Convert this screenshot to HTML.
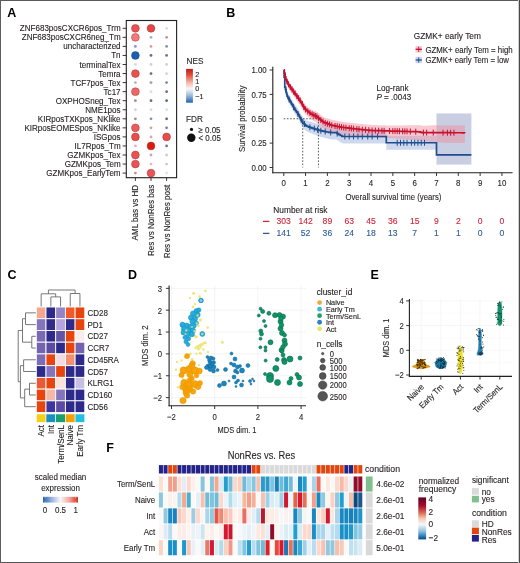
<!DOCTYPE html>
<html><head><meta charset="utf-8"><title>Figure</title>
<style>
html,body{margin:0;padding:0;background:#fff;}
body{width:520px;height:563px;overflow:hidden;font-family:"Liberation Sans", sans-serif;}
svg{display:block;will-change:transform;}
</style></head><body>
<svg width="520" height="563" viewBox="0 0 520 563" font-family='"Liberation Sans", sans-serif'><defs><linearGradient id="gNES" x1="0" y1="0" x2="0" y2="1"><stop offset="0" stop-color="#c41a10"/><stop offset="0.18" stop-color="#e0503c"/><stop offset="0.40" stop-color="#f4b4a4"/><stop offset="0.59" stop-color="#f8f8f8"/><stop offset="0.78" stop-color="#9cbcdc"/><stop offset="1" stop-color="#2262ae"/></linearGradient><linearGradient id="gC" x1="0" y1="0" x2="1" y2="0"><stop offset="0" stop-color="#2a5fb0"/><stop offset="0.25" stop-color="#9ab4e0"/><stop offset="0.5" stop-color="#f8f6f6"/><stop offset="0.75" stop-color="#f0a8a0"/><stop offset="1" stop-color="#d83020"/></linearGradient><linearGradient id="gF" x1="0" y1="0" x2="0" y2="1"><stop offset="0" stop-color="#67001f"/><stop offset="0.2" stop-color="#a01030"/><stop offset="0.35" stop-color="#d6604d"/><stop offset="0.5" stop-color="#f6c8b0"/><stop offset="0.64" stop-color="#f7f7f7"/><stop offset="0.8" stop-color="#92c5de"/><stop offset="0.92" stop-color="#2f7fbc"/><stop offset="1" stop-color="#0c3f80"/></linearGradient></defs><rect x="0.00" y="0.00" width="520.00" height="1.00" fill="#5a5a5a"/>
<rect x="0.00" y="562.00" width="520.00" height="1.00" fill="#555555"/>
<rect x="0.00" y="0.00" width="1.00" height="563.00" fill="#5e5e5e"/>
<rect x="518.00" y="0.00" width="1.00" height="563.00" fill="#d0d0d0"/>
<rect x="519.00" y="0.00" width="1.00" height="563.00" fill="#484848"/>
<text x="7.30" y="16.80" font-size="12.5" fill="#000" text-anchor="start" font-weight="bold">A</text>
<text x="120.60" y="28.30" font-size="8.86" fill="#231f20" text-anchor="end" dominant-baseline="central" textLength="100.81" lengthAdjust="spacingAndGlyphs" stroke="#231f20" stroke-width="0.12">ZNF683posCXCR6pos_Trm</text>
<line x1="122.60" y1="28.30" x2="126.30" y2="28.30" stroke="#231f20" stroke-width="0.9"/>
<circle cx="135.40" cy="28.30" r="3.90" fill="#e65454" stroke="#b03030" stroke-width="0.5" fill-opacity="1"/>
<circle cx="151.00" cy="28.30" r="3.90" fill="#e24646" stroke="#b03030" stroke-width="0.5" fill-opacity="1"/>
<circle cx="166.60" cy="28.30" r="1.40" fill="#e6dcdc"/>
<text x="120.60" y="37.35" font-size="8.86" fill="#231f20" text-anchor="end" dominant-baseline="central" textLength="98.88" lengthAdjust="spacingAndGlyphs" stroke="#231f20" stroke-width="0.12">ZNF683posCXCR6neg_Tm</text>
<line x1="122.60" y1="37.35" x2="126.30" y2="37.35" stroke="#231f20" stroke-width="0.9"/>
<circle cx="135.40" cy="37.35" r="3.90" fill="#ef7b7b" stroke="#b03030" stroke-width="0.5" fill-opacity="1"/>
<circle cx="151.00" cy="37.35" r="1.40" fill="#a9adc2"/>
<circle cx="166.60" cy="37.35" r="1.40" fill="#d48e8e"/>
<text x="120.60" y="46.40" font-size="8.86" fill="#231f20" text-anchor="end" dominant-baseline="central" textLength="57.28" lengthAdjust="spacingAndGlyphs" stroke="#231f20" stroke-width="0.12">uncharacterized</text>
<line x1="122.60" y1="46.40" x2="126.30" y2="46.40" stroke="#231f20" stroke-width="0.9"/>
<circle cx="135.40" cy="46.40" r="1.40" fill="#8c8ec8"/>
<circle cx="151.00" cy="46.40" r="1.40" fill="#d89e9e"/>
<circle cx="166.60" cy="46.40" r="1.40" fill="#8890b2"/>
<text x="120.60" y="55.45" font-size="8.86" fill="#231f20" text-anchor="end" dominant-baseline="central" textLength="9.39" lengthAdjust="spacingAndGlyphs" stroke="#231f20" stroke-width="0.12">Tn</text>
<line x1="122.60" y1="55.45" x2="126.30" y2="55.45" stroke="#231f20" stroke-width="0.9"/>
<circle cx="135.40" cy="55.45" r="3.90" fill="#1c5fae" stroke="#124a8a" stroke-width="0.5" fill-opacity="1"/>
<circle cx="151.00" cy="55.45" r="1.40" fill="#666a8c"/>
<circle cx="166.60" cy="55.45" r="1.40" fill="#6c72a0"/>
<text x="120.60" y="64.50" font-size="8.86" fill="#231f20" text-anchor="end" dominant-baseline="central" textLength="41.16" lengthAdjust="spacingAndGlyphs" stroke="#231f20" stroke-width="0.12">terminalTex</text>
<line x1="122.60" y1="64.50" x2="126.30" y2="64.50" stroke="#231f20" stroke-width="0.9"/>
<circle cx="135.40" cy="64.50" r="1.40" fill="#d8d8e8"/>
<circle cx="151.00" cy="64.50" r="1.40" fill="#d8d0d0"/>
<circle cx="166.60" cy="64.50" r="1.40" fill="#d4d2d2"/>
<text x="120.60" y="73.55" font-size="8.86" fill="#231f20" text-anchor="end" dominant-baseline="central" textLength="22.37" lengthAdjust="spacingAndGlyphs" stroke="#231f20" stroke-width="0.12">Temra</text>
<line x1="122.60" y1="73.55" x2="126.30" y2="73.55" stroke="#231f20" stroke-width="0.9"/>
<circle cx="135.40" cy="73.55" r="3.90" fill="#e65252" stroke="#b03030" stroke-width="0.5" fill-opacity="1"/>
<circle cx="151.00" cy="73.55" r="1.40" fill="#686c88"/>
<circle cx="166.60" cy="73.55" r="1.40" fill="#e6cece"/>
<text x="120.60" y="82.60" font-size="8.86" fill="#231f20" text-anchor="end" dominant-baseline="central" textLength="50.11" lengthAdjust="spacingAndGlyphs" stroke="#231f20" stroke-width="0.12">TCF7pos_Tex</text>
<line x1="122.60" y1="82.60" x2="126.30" y2="82.60" stroke="#231f20" stroke-width="0.9"/>
<circle cx="135.40" cy="82.60" r="1.40" fill="#c0aeae"/>
<circle cx="151.00" cy="82.60" r="1.40" fill="#989ab8"/>
<circle cx="166.60" cy="82.60" r="1.40" fill="#7e86b0"/>
<text x="120.60" y="91.65" font-size="8.86" fill="#231f20" text-anchor="end" dominant-baseline="central" textLength="17.00" lengthAdjust="spacingAndGlyphs" stroke="#231f20" stroke-width="0.12">Tc17</text>
<line x1="122.60" y1="91.65" x2="126.30" y2="91.65" stroke="#231f20" stroke-width="0.9"/>
<circle cx="135.40" cy="91.65" r="3.90" fill="#ec6868" stroke="#b03030" stroke-width="0.5" fill-opacity="1"/>
<circle cx="151.00" cy="91.65" r="1.40" fill="#ecd6d6"/>
<circle cx="166.60" cy="91.65" r="1.40" fill="#686e90"/>
<text x="120.60" y="100.70" font-size="8.86" fill="#231f20" text-anchor="end" dominant-baseline="central" textLength="64.88" lengthAdjust="spacingAndGlyphs" stroke="#231f20" stroke-width="0.12">OXPHOSneg_Tex</text>
<line x1="122.60" y1="100.70" x2="126.30" y2="100.70" stroke="#231f20" stroke-width="0.9"/>
<circle cx="135.40" cy="100.70" r="1.40" fill="#b08686"/>
<circle cx="151.00" cy="100.70" r="1.40" fill="#686c80"/>
<circle cx="166.60" cy="100.70" r="1.40" fill="#5e6690"/>
<text x="120.60" y="109.75" font-size="8.86" fill="#231f20" text-anchor="end" dominant-baseline="central" textLength="35.35" lengthAdjust="spacingAndGlyphs" stroke="#231f20" stroke-width="0.12">NME1pos</text>
<line x1="122.60" y1="109.75" x2="126.30" y2="109.75" stroke="#231f20" stroke-width="0.9"/>
<circle cx="135.40" cy="109.75" r="1.40" fill="#d6d2e8"/>
<circle cx="151.00" cy="109.75" r="1.40" fill="#dcdce8"/>
<circle cx="166.60" cy="109.75" r="1.40" fill="#e0e0e8"/>
<text x="120.60" y="118.80" font-size="8.86" fill="#231f20" text-anchor="end" dominant-baseline="central" textLength="82.77" lengthAdjust="spacingAndGlyphs" stroke="#231f20" stroke-width="0.12">KIRposTXKpos_NKlike</text>
<line x1="122.60" y1="118.80" x2="126.30" y2="118.80" stroke="#231f20" stroke-width="0.9"/>
<circle cx="135.40" cy="118.80" r="1.40" fill="#b08686"/>
<circle cx="151.00" cy="118.80" r="1.40" fill="#868eb8"/>
<circle cx="166.60" cy="118.80" r="1.40" fill="#5e6688"/>
<text x="120.60" y="127.85" font-size="8.86" fill="#231f20" text-anchor="end" dominant-baseline="central" textLength="96.19" lengthAdjust="spacingAndGlyphs" stroke="#231f20" stroke-width="0.12">KIRposEOMESpos_NKlike</text>
<line x1="122.60" y1="127.85" x2="126.30" y2="127.85" stroke="#231f20" stroke-width="0.9"/>
<circle cx="135.40" cy="127.85" r="3.90" fill="#ea5c5c" stroke="#b03030" stroke-width="0.5" fill-opacity="1"/>
<circle cx="151.00" cy="127.85" r="1.40" fill="#c8a696"/>
<circle cx="166.60" cy="127.85" r="1.40" fill="#7882a8"/>
<text x="120.60" y="136.90" font-size="8.86" fill="#231f20" text-anchor="end" dominant-baseline="central" textLength="26.85" lengthAdjust="spacingAndGlyphs" stroke="#231f20" stroke-width="0.12">ISGpos</text>
<line x1="122.60" y1="136.90" x2="126.30" y2="136.90" stroke="#231f20" stroke-width="0.9"/>
<circle cx="135.40" cy="136.90" r="3.90" fill="#e64e4e" stroke="#b03030" stroke-width="0.5" fill-opacity="1"/>
<circle cx="151.00" cy="136.90" r="1.40" fill="#e8a0b0"/>
<circle cx="166.60" cy="136.90" r="3.90" fill="#e64e4e" stroke="#b03030" stroke-width="0.5" fill-opacity="1"/>
<text x="120.60" y="145.95" font-size="8.86" fill="#231f20" text-anchor="end" dominant-baseline="central" textLength="46.08" lengthAdjust="spacingAndGlyphs" stroke="#231f20" stroke-width="0.12">IL7Rpos_Tm</text>
<line x1="122.60" y1="145.95" x2="126.30" y2="145.95" stroke="#231f20" stroke-width="0.9"/>
<circle cx="135.40" cy="145.95" r="1.40" fill="#e8aec0"/>
<circle cx="151.00" cy="145.95" r="3.90" fill="#dc1a08" stroke="#b03030" stroke-width="0.5" fill-opacity="1"/>
<circle cx="166.60" cy="145.95" r="1.40" fill="#6e76a0"/>
<text x="120.60" y="155.00" font-size="8.86" fill="#231f20" text-anchor="end" dominant-baseline="central" textLength="53.24" lengthAdjust="spacingAndGlyphs" stroke="#231f20" stroke-width="0.12">GZMKpos_Tex</text>
<line x1="122.60" y1="155.00" x2="126.30" y2="155.00" stroke="#231f20" stroke-width="0.9"/>
<circle cx="135.40" cy="155.00" r="3.90" fill="#e65454" stroke="#b03030" stroke-width="0.5" fill-opacity="1"/>
<circle cx="151.00" cy="155.00" r="1.40" fill="#d89ea8"/>
<circle cx="166.60" cy="155.00" r="1.40" fill="#d8c8c8"/>
<text x="120.60" y="164.05" font-size="8.86" fill="#231f20" text-anchor="end" dominant-baseline="central" textLength="55.92" lengthAdjust="spacingAndGlyphs" stroke="#231f20" stroke-width="0.12">GZMKpos_Tem</text>
<line x1="122.60" y1="164.05" x2="126.30" y2="164.05" stroke="#231f20" stroke-width="0.9"/>
<circle cx="135.40" cy="164.05" r="3.90" fill="#e65454" stroke="#b03030" stroke-width="0.5" fill-opacity="1"/>
<circle cx="151.00" cy="164.05" r="1.40" fill="#e8b6c6"/>
<circle cx="166.60" cy="164.05" r="1.40" fill="#d0c8c0"/>
<text x="120.60" y="173.10" font-size="8.86" fill="#231f20" text-anchor="end" dominant-baseline="central" textLength="74.26" lengthAdjust="spacingAndGlyphs" stroke="#231f20" stroke-width="0.12">GZMKpos_EarlyTem</text>
<line x1="122.60" y1="173.10" x2="126.30" y2="173.10" stroke="#231f20" stroke-width="0.9"/>
<circle cx="135.40" cy="173.10" r="1.40" fill="#c88e8e"/>
<circle cx="151.00" cy="173.10" r="3.90" fill="#e65656" stroke="#b03030" stroke-width="0.5" fill-opacity="1"/>
<circle cx="166.60" cy="173.10" r="1.40" fill="#e8e0e0"/>
<rect x="126.3" y="20.5" width="50.3" height="157.2" fill="none" stroke="#231f20" stroke-width="1.1"/>
<line x1="135.40" y1="177.70" x2="135.40" y2="180.90" stroke="#231f20" stroke-width="0.9"/>
<text x="135.40" y="184.80" font-size="8.86" fill="#231f20" text-anchor="end" dominant-baseline="central" transform="rotate(-90 135.40 184.80)" textLength="55.62" lengthAdjust="spacingAndGlyphs" stroke="#231f20" stroke-width="0.12">AML bas vs HD</text>
<line x1="151.00" y1="177.70" x2="151.00" y2="180.90" stroke="#231f20" stroke-width="0.9"/>
<text x="151.00" y="184.80" font-size="8.86" fill="#231f20" text-anchor="end" dominant-baseline="central" transform="rotate(-90 151.00 184.80)" textLength="71.14" lengthAdjust="spacingAndGlyphs" stroke="#231f20" stroke-width="0.12">Res vs NonRes bas</text>
<line x1="166.60" y1="177.70" x2="166.60" y2="180.90" stroke="#231f20" stroke-width="0.9"/>
<text x="166.60" y="184.80" font-size="8.86" fill="#231f20" text-anchor="end" dominant-baseline="central" transform="rotate(-90 166.60 184.80)" textLength="73.37" lengthAdjust="spacingAndGlyphs" stroke="#231f20" stroke-width="0.12">Res vs NonRes post</text>
<text x="186.50" y="64.40" font-size="9.02" fill="#231f20" text-anchor="start" textLength="16.86" lengthAdjust="spacingAndGlyphs" stroke="#231f20" stroke-width="0.12">NES</text>
<rect x="186.10" y="68.90" width="6.80" height="33.80" fill="url(#gNES)"/>
<text x="195.20" y="74.50" font-size="7.3" fill="#231f20" text-anchor="start" dominant-baseline="central" stroke="#231f20" stroke-width="0.12">2</text>
<text x="195.20" y="81.20" font-size="7.3" fill="#231f20" text-anchor="start" dominant-baseline="central" stroke="#231f20" stroke-width="0.12">1</text>
<text x="195.20" y="88.90" font-size="7.3" fill="#231f20" text-anchor="start" dominant-baseline="central" stroke="#231f20" stroke-width="0.12">0</text>
<text x="195.20" y="96.00" font-size="7.3" fill="#231f20" text-anchor="start" dominant-baseline="central" stroke="#231f20" stroke-width="0.12">−1</text>
<text x="186.00" y="122.20" font-size="9.02" fill="#231f20" text-anchor="start" textLength="16.85" lengthAdjust="spacingAndGlyphs" stroke="#231f20" stroke-width="0.12">FDR</text>
<circle cx="191.50" cy="129.40" r="1.60" fill="#111"/>
<text x="198.40" y="129.60" font-size="8.8" fill="#231f20" text-anchor="start" dominant-baseline="central" textLength="22.18" lengthAdjust="spacingAndGlyphs" stroke="#231f20" stroke-width="0.12">≥ 0.05</text>
<circle cx="191.30" cy="137.80" r="4.20" fill="#111"/>
<text x="198.40" y="138.00" font-size="8.8" fill="#231f20" text-anchor="start" dominant-baseline="central" textLength="22.46" lengthAdjust="spacingAndGlyphs" stroke="#231f20" stroke-width="0.12">&lt; 0.05</text>
<text x="226.30" y="16.90" font-size="12.5" fill="#000" text-anchor="start" font-weight="bold">B</text>
<polygon points="283.75,70.00 284.12,70.00 284.12,73.18 284.76,73.14 284.76,83.15 285.38,83.11 285.38,85.52 286.14,85.47 286.14,88.42 286.61,88.39 286.61,90.20 287.08,90.17 287.08,91.97 287.77,91.92 287.77,93.44 288.44,93.40 288.44,94.51 288.95,94.48 288.95,95.33 289.65,95.28 289.65,96.45 290.22,96.41 290.22,97.36 291.00,97.31 291.00,98.65 291.45,98.63 291.45,99.41 291.95,99.37 291.95,100.26 292.83,100.20 292.83,101.72 293.43,101.69 293.43,102.73 293.98,102.70 293.98,103.66 294.85,103.61 294.85,105.01 295.64,104.96 295.64,106.13 296.16,106.09 296.16,106.87 296.92,106.82 296.92,107.95 297.77,107.90 297.77,109.16 298.33,109.12 298.33,109.95 299.20,109.90 299.20,111.50 299.76,111.46 299.76,112.55 300.46,112.51 300.46,113.89 301.00,113.86 301.00,114.93 301.64,114.90 301.64,116.14 302.80,116.07 302.80,118.29 303.59,118.24 303.59,118.83 304.82,118.76 304.82,119.67 305.68,119.61 305.68,120.26 306.68,120.19 306.68,120.93 307.91,120.85 307.91,121.27 309.02,121.20 309.02,121.58 309.70,121.53 309.70,121.77 310.78,121.70 310.78,122.06 311.92,121.99 311.92,122.38 312.71,122.33 312.71,122.60 313.43,122.55 313.43,122.79 314.85,122.71 314.85,123.18 315.98,123.11 315.98,123.49 316.84,123.43 316.84,123.72 317.96,123.65 317.96,124.03 318.88,123.97 318.88,124.28 320.38,124.19 320.38,124.51 321.62,124.43 321.62,124.67 322.49,124.62 322.49,124.79 324.11,124.68 324.11,125.00 325.00,124.94 325.00,125.12 326.12,125.05 326.12,125.26 326.97,125.21 326.97,125.38 328.64,125.27 328.64,125.60 329.63,125.53 329.63,125.65 331.12,125.56 331.12,125.63 332.13,125.59 332.13,125.64 333.63,125.64 333.63,125.70 335.41,125.70 335.41,125.79 337.06,125.79 337.06,126.72 338.64,126.72 338.64,127.63 340.30,127.63 340.30,128.60 341.93,128.60 341.93,129.55 343.83,129.55 343.83,129.59 345.05,129.59 345.05,129.59 346.85,129.59 346.85,129.59 348.34,129.59 348.34,129.59 350.83,129.59 350.83,129.59 353.51,129.59 353.51,129.59 354.85,129.59 354.85,129.59 356.35,129.59 356.35,129.59 358.83,129.59 358.83,129.59 361.15,129.59 361.15,129.59 362.54,129.59 362.54,129.59 365.21,129.59 365.21,129.59 368.42,129.59 368.42,129.59 370.72,129.59 370.72,129.59 372.93,129.59 372.93,129.59 375.64,129.59 375.64,129.59 379.22,129.59 379.22,129.59 381.45,129.59 381.45,129.59 383.82,129.59 383.82,129.59 385.98,129.59 385.98,129.59 386.30,129.59 386.30,129.59 386.30,129.59 386.30,135.83 436.49,135.83 436.49,149.64 386.30,149.64 386.30,143.40 386.30,143.40 386.30,143.40 385.98,143.40 385.98,143.40 383.82,143.40 383.82,143.40 381.45,143.40 381.45,143.40 379.22,143.40 379.22,143.40 375.64,143.40 375.64,143.40 372.93,143.40 372.93,143.40 370.72,143.40 370.72,143.40 368.42,143.40 368.42,143.40 365.21,143.40 365.21,143.40 362.54,143.40 362.54,143.40 361.15,143.40 361.15,143.40 358.83,143.40 358.83,143.40 356.35,143.40 356.35,143.40 354.85,143.40 354.85,143.40 353.51,143.40 353.51,143.40 350.83,143.40 350.83,143.40 348.34,143.40 348.34,143.40 346.85,143.40 346.85,143.40 345.05,143.40 345.05,143.40 343.83,143.40 343.83,143.35 341.93,143.35 341.93,142.40 340.30,142.40 340.30,141.44 338.64,141.44 338.64,140.52 337.06,140.52 337.06,139.59 335.41,139.59 335.41,139.51 333.63,139.51 333.63,139.44 332.13,139.44 332.13,139.39 331.12,139.36 331.12,139.29 329.63,139.19 329.63,139.07 328.64,139.01 328.64,138.69 326.97,138.58 326.97,138.42 326.12,138.36 326.12,138.15 325.00,138.08 325.00,137.90 324.11,137.85 324.11,137.53 322.49,137.43 322.49,137.26 321.62,137.21 321.62,136.97 320.38,136.89 320.38,136.57 318.88,136.48 318.88,136.17 317.96,136.11 317.96,135.73 316.84,135.66 316.84,135.37 315.98,135.32 315.98,134.94 314.85,134.87 314.85,134.40 313.43,134.31 313.43,134.06 312.71,134.02 312.71,133.75 311.92,133.70 311.92,133.32 310.78,133.25 310.78,132.88 309.70,132.81 309.70,132.58 309.02,132.54 309.02,132.16 307.91,132.09 307.91,131.68 306.68,131.60 306.68,130.86 305.68,130.80 305.68,130.16 304.82,130.10 304.82,129.19 303.59,129.12 303.59,128.52 302.80,128.47 302.80,126.25 301.64,126.18 301.64,124.93 301.00,124.89 301.00,123.82 300.46,123.78 300.46,122.40 299.76,122.36 299.76,121.26 299.20,121.23 299.20,119.63 298.33,119.58 298.33,118.75 297.77,118.71 297.77,117.46 296.92,117.40 296.92,116.27 296.16,116.22 296.16,115.45 295.64,115.41 295.64,114.25 294.85,114.20 294.85,112.80 293.98,112.74 293.98,111.78 293.43,111.74 293.43,110.70 292.83,110.66 292.83,109.14 291.95,109.08 291.95,108.20 291.45,108.17 291.45,107.39 291.00,107.36 291.00,106.02 290.22,105.97 290.22,105.02 289.65,104.99 289.65,103.82 288.95,103.78 288.95,102.93 288.44,102.90 288.44,101.79 287.77,101.74 287.77,100.23 287.08,100.18 287.08,98.38 286.61,98.35 286.61,96.54 286.14,96.51 286.14,93.57 285.38,93.52 285.38,91.11 284.76,91.07 284.76,81.06 284.12,81.02 284.12,73.92 283.75,73.90" fill="#9fb4de" fill-opacity="0.5"/>
<rect x="436.49" y="113.39" width="34.91" height="51.19" fill="#9ea6cc" fill-opacity="0.55"/>
<polygon points="283.75,70.00 284.31,70.00 284.31,70.09 284.99,70.06 284.99,73.80 285.74,73.76 285.74,76.30 286.20,76.28 286.20,77.22 286.88,77.19 286.88,78.57 287.54,78.54 287.54,79.88 288.18,79.84 288.18,81.15 288.58,81.13 288.58,81.78 288.93,81.77 288.93,82.27 289.46,82.24 289.46,82.98 290.16,82.95 290.16,83.93 290.63,83.91 290.63,84.57 291.22,84.54 291.22,85.38 291.73,85.35 291.73,86.07 292.50,86.03 292.50,87.11 293.33,87.07 293.33,88.18 293.90,88.15 293.90,88.91 294.77,88.86 294.77,90.03 295.17,90.00 295.17,90.55 295.96,90.51 295.96,91.57 296.80,91.52 296.80,92.69 297.26,92.66 297.26,93.34 298.02,93.30 298.02,94.41 298.71,94.37 298.71,95.38 299.62,95.33 299.62,96.65 300.14,96.63 300.14,97.38 300.84,97.34 300.84,98.45 301.74,98.40 301.74,99.96 302.51,99.92 302.51,101.27 303.11,101.23 303.11,102.27 303.58,102.25 303.58,103.07 304.55,103.02 304.55,104.70 305.25,104.66 305.25,105.38 306.28,105.32 306.28,106.15 306.81,106.12 306.81,106.56 307.74,106.51 307.74,107.27 308.69,107.22 308.69,107.99 309.71,107.93 309.71,108.77 310.19,108.74 310.19,109.13 310.90,109.09 310.90,109.63 311.40,109.61 311.40,109.85 312.36,109.80 312.36,110.26 313.08,110.22 313.08,110.56 314.19,110.50 314.19,111.03 314.94,110.99 314.94,111.35 315.96,111.29 315.96,111.78 317.05,111.72 317.05,112.25 317.73,112.21 317.73,112.77 318.64,112.72 318.64,113.52 319.84,113.46 319.84,114.51 320.75,114.46 320.75,115.26 321.55,115.22 321.55,115.92 322.29,115.88 322.29,116.53 323.43,116.47 323.43,117.26 324.13,117.22 324.13,117.49 325.15,117.43 325.15,117.82 326.15,117.76 326.15,118.14 327.15,118.08 327.15,118.46 327.84,118.43 327.84,118.69 328.95,118.63 328.95,119.04 330.29,118.97 330.29,119.47 331.15,119.43 331.15,119.75 332.04,119.72 332.04,119.93 333.42,119.93 333.42,120.21 334.54,120.21 334.54,120.44 335.41,120.44 335.41,120.62 336.07,120.62 336.07,120.75 337.37,120.75 337.37,121.02 338.34,121.02 338.34,121.22 339.43,121.22 339.43,121.44 340.35,121.44 340.35,121.63 341.61,121.63 341.61,121.86 342.98,121.86 342.98,122.02 343.97,122.02 343.97,122.13 344.76,122.13 344.76,122.22 346.42,122.22 346.42,122.41 348.03,122.41 348.03,122.60 348.80,122.60 348.80,122.69 350.11,122.69 350.11,122.84 351.56,122.84 351.56,123.01 352.75,123.01 352.75,123.14 354.29,123.14 354.29,123.32 356.09,123.32 356.09,123.52 357.53,123.52 357.53,123.67 358.78,123.67 358.78,123.80 359.82,123.80 359.82,123.90 360.94,123.90 360.94,124.01 361.95,124.01 361.95,124.12 362.93,124.12 362.93,124.22 364.03,124.22 364.03,124.33 365.88,124.33 365.88,124.52 367.40,124.52 367.40,124.67 369.26,124.67 369.26,124.86 371.29,124.86 371.29,124.98 373.22,124.98 373.22,125.04 374.23,125.04 374.23,125.06 376.36,125.06 376.36,125.12 377.45,125.12 377.45,125.15 379.44,125.15 379.44,125.21 381.56,125.21 381.56,125.27 383.46,125.27 383.46,125.32 385.05,125.32 385.05,125.37 386.19,125.37 386.19,125.40 387.37,125.40 387.37,125.43 389.34,125.43 389.34,125.49 390.77,125.49 390.77,125.53 392.63,125.53 392.63,125.58 394.14,125.52 394.14,125.56 395.50,125.50 395.50,125.54 397.08,125.47 397.08,125.51 399.34,125.41 399.34,125.48 401.27,125.39 401.27,125.44 403.07,125.36 403.07,125.41 405.05,125.33 405.05,125.38 407.17,125.29 407.17,125.34 409.25,125.25 409.25,125.31 411.25,125.22 411.25,125.28 414.17,125.15 414.17,125.23 416.77,125.11 416.77,125.18 418.49,125.11 418.49,125.16 420.40,125.07 420.40,125.57 422.09,125.50 422.09,125.79 424.13,125.70 424.13,125.71 425.57,125.65 425.57,125.65 428.36,125.53 428.36,125.54 430.86,125.43 430.86,125.44 433.13,125.34 433.13,125.35 436.35,125.21 436.35,125.22 438.51,125.21 438.51,125.22 441.20,125.22 441.20,125.24 444.66,125.24 444.66,125.25 447.41,125.25 447.41,125.26 450.32,125.26 450.32,125.28 452.75,125.28 452.75,125.29 456.60,125.29 456.60,125.30 459.99,125.30 459.99,125.32 462.41,125.32 462.41,125.33 464.86,125.33 464.86,125.34 464.86,125.34 464.86,142.99 464.86,142.99 464.86,142.98 462.41,142.98 462.41,142.97 459.99,142.97 459.99,142.95 456.60,142.95 456.60,142.93 452.75,142.93 452.75,142.92 450.32,142.92 450.32,142.91 447.41,142.91 447.41,142.90 444.66,142.75 444.66,142.74 441.20,142.55 441.20,142.54 438.51,142.39 438.51,142.38 436.35,142.27 436.35,142.25 433.13,142.08 433.13,142.07 430.86,141.95 430.86,141.94 428.36,141.80 428.36,141.79 425.57,141.64 425.57,141.64 424.13,141.56 424.13,141.55 422.09,141.44 422.09,141.14 420.40,141.05 420.40,140.55 418.49,140.45 418.49,140.40 416.77,140.31 416.77,140.23 414.17,140.10 414.17,140.01 411.25,139.86 411.25,139.80 409.25,139.69 409.25,139.64 407.17,139.52 407.17,139.47 405.05,139.35 405.05,139.30 403.07,139.19 403.07,139.14 401.27,139.04 401.27,138.99 399.34,138.89 399.34,138.82 397.08,138.70 397.08,138.66 395.50,138.57 395.50,138.54 394.14,138.46 394.14,138.42 392.63,138.35 392.63,138.30 390.77,138.30 390.77,138.26 389.34,138.26 389.34,138.20 387.37,138.20 387.37,138.17 386.19,138.17 386.19,138.14 385.05,138.14 385.05,138.10 383.46,138.10 383.46,138.04 381.56,138.04 381.56,137.98 379.44,137.98 379.44,137.93 377.45,137.93 377.45,137.90 376.36,137.90 376.36,137.84 374.23,137.84 374.23,137.81 373.22,137.81 373.22,137.76 371.29,137.76 371.29,137.63 369.26,137.63 369.26,137.44 367.40,137.44 367.40,137.29 365.88,137.29 365.88,137.10 364.03,137.10 364.03,136.99 362.93,136.99 362.93,136.89 361.95,136.89 361.95,136.79 360.94,136.79 360.94,136.67 359.82,136.67 359.82,136.57 358.78,136.57 358.78,136.44 357.53,136.44 357.53,136.30 356.09,136.30 356.09,136.09 354.29,136.09 354.29,135.91 352.75,135.91 352.75,135.78 351.56,135.78 351.56,135.61 350.11,135.61 350.11,135.46 348.80,135.46 348.80,135.37 348.03,135.37 348.03,135.19 346.42,135.19 346.42,134.99 344.76,134.99 344.76,134.90 343.97,134.90 343.97,134.79 342.98,134.79 342.98,134.63 341.61,134.63 341.61,134.40 340.35,134.40 340.35,134.21 339.43,134.21 339.43,133.99 338.34,133.99 338.34,133.79 337.37,133.79 337.37,133.52 336.07,133.52 336.07,133.39 335.41,133.39 335.41,133.21 334.54,133.21 334.54,132.98 333.42,132.98 333.42,132.70 332.04,132.70 332.04,132.49 331.15,132.45 331.15,132.12 330.29,132.05 330.29,131.55 328.95,131.44 328.95,131.02 327.84,130.93 327.84,130.67 327.15,130.62 327.15,130.24 326.15,130.16 326.15,129.78 325.15,129.70 325.15,129.32 324.13,129.24 324.13,128.97 323.43,128.92 323.43,128.12 322.29,128.03 322.29,127.38 321.55,127.32 321.55,126.62 320.75,126.56 320.75,125.76 319.84,125.68 319.84,124.63 318.64,124.54 318.64,123.74 317.73,123.67 317.73,123.10 317.05,123.05 317.05,122.52 315.96,122.44 315.96,121.95 314.94,121.87 314.94,121.51 314.19,121.45 314.19,120.92 313.08,120.83 313.08,120.49 312.36,120.43 312.36,119.97 311.40,119.89 311.40,119.65 310.90,119.61 310.90,119.07 310.19,119.01 310.19,118.62 309.71,118.58 309.71,117.75 308.69,117.67 308.69,116.90 307.74,116.82 307.74,116.06 306.81,115.98 306.81,115.55 306.28,115.51 306.28,114.68 305.25,114.60 305.25,113.88 304.55,113.82 304.55,112.14 303.58,112.06 303.58,111.24 303.11,111.20 303.11,110.17 302.51,110.12 302.51,108.77 301.74,108.71 301.74,107.15 300.84,107.08 300.84,105.97 300.14,105.92 300.14,105.16 299.62,105.12 299.62,103.79 298.71,103.72 298.71,102.71 298.02,102.66 298.02,101.55 297.26,101.49 297.26,100.81 296.80,100.77 296.80,99.61 295.96,99.54 295.96,98.48 295.17,98.42 295.17,97.87 294.77,97.84 294.77,96.68 293.90,96.61 293.90,95.84 293.33,95.80 293.33,94.69 292.50,94.63 292.50,93.54 291.73,93.48 291.73,92.76 291.22,92.72 291.22,91.88 290.63,91.83 290.63,91.17 290.16,91.13 290.16,90.14 289.46,90.09 289.46,89.35 288.93,89.30 288.93,88.80 288.58,88.77 288.58,88.12 288.18,88.09 288.18,86.77 287.54,86.72 287.54,85.38 286.88,85.33 286.88,83.94 286.20,83.89 286.20,82.94 285.74,82.91 285.74,80.37 284.99,80.30 284.99,76.56 284.31,76.50 284.31,73.46 283.75,73.41" fill="#ee8a98" fill-opacity="0.45"/>
<line x1="283.75" y1="118.75" x2="318.44" y2="118.75" stroke="#333" stroke-width="0.8" stroke-dasharray="1.6,1.6"/>
<line x1="302.73" y1="118.75" x2="302.73" y2="167.50" stroke="#333" stroke-width="0.8" stroke-dasharray="1.6,1.6"/>
<line x1="318.44" y1="118.75" x2="318.44" y2="167.50" stroke="#333" stroke-width="0.8" stroke-dasharray="1.6,1.6"/>
<polyline points="283.75,70.00 284.12,70.00 284.12,77.10 284.76,77.10 284.76,87.11 285.38,87.11 285.38,89.52 286.14,89.52 286.14,92.47 286.61,92.47 286.61,94.27 287.08,94.27 287.08,96.08 287.77,96.08 287.77,97.59 288.44,97.59 288.44,98.71 288.95,98.71 288.95,99.55 289.65,99.55 289.65,100.72 290.22,100.72 290.22,101.67 291.00,101.67 291.00,103.01 291.45,103.01 291.45,103.79 291.95,103.79 291.95,104.67 292.83,104.67 292.83,106.19 293.43,106.19 293.43,107.24 293.98,107.24 293.98,108.20 294.85,108.20 294.85,109.60 295.64,109.60 295.64,110.77 296.16,110.77 296.16,111.54 296.92,111.54 296.92,112.68 297.77,112.68 297.77,113.94 298.33,113.94 298.33,114.77 299.20,114.77 299.20,116.36 299.76,116.36 299.76,117.46 300.46,117.46 300.46,118.84 301.00,118.84 301.00,119.91 301.64,119.91 301.64,121.16 302.80,121.16 302.80,123.38 303.59,123.38 303.59,123.97 304.82,123.97 304.82,124.89 305.68,124.89 305.68,125.53 306.68,125.53 306.68,126.26 307.91,126.26 307.91,126.68 309.02,126.68 309.02,127.06 309.70,127.06 309.70,127.29 310.78,127.29 310.78,127.65 311.92,127.65 311.92,128.04 312.71,128.04 312.71,128.31 313.43,128.31 313.43,128.55 314.85,128.55 314.85,129.03 315.98,129.03 315.98,129.40 316.84,129.40 316.84,129.69 317.96,129.69 317.96,130.07 318.88,130.07 318.88,130.38 320.38,130.38 320.38,130.70 321.62,130.70 321.62,130.94 322.49,130.94 322.49,131.11 324.11,131.11 324.11,131.42 325.00,131.42 325.00,131.60 326.12,131.60 326.12,131.81 326.97,131.81 326.97,131.98 328.64,131.98 328.64,132.30 329.63,132.30 329.63,132.42 331.12,132.42 331.12,132.49 332.13,132.49 332.13,132.54 333.63,132.54 333.63,132.61 335.41,132.61 335.41,132.69 337.06,132.69 337.06,133.62 338.64,133.62 338.64,134.54 340.30,134.54 340.30,135.50 341.93,135.50 341.93,136.45 343.83,136.45 343.83,136.50 345.05,136.50 345.05,136.50 346.85,136.50 346.85,136.50 348.34,136.50 348.34,136.50 350.83,136.50 350.83,136.50 353.51,136.50 353.51,136.50 354.85,136.50 354.85,136.50 356.35,136.50 356.35,136.50 358.83,136.50 358.83,136.50 361.15,136.50 361.15,136.50 362.54,136.50 362.54,136.50 365.21,136.50 365.21,136.50 368.42,136.50 368.42,136.50 370.72,136.50 370.72,136.50 372.93,136.50 372.93,136.50 375.64,136.50 375.64,136.50 379.22,136.50 379.22,136.50 381.45,136.50 381.45,136.50 383.82,136.50 383.82,136.50 385.98,136.50 385.98,136.50 386.30,136.50 386.30,136.50 386.30,136.50 386.30,142.74 436.49,142.74 436.49,154.82 471.40,154.82" fill="none" stroke="#1f4e8c" stroke-width="1.7"/>
<polyline points="283.75,70.00 284.31,70.00 284.31,73.05 284.99,73.05 284.99,76.79 285.74,76.79 285.74,79.33 286.20,79.33 286.20,80.28 286.88,80.28 286.88,81.66 287.54,81.66 287.54,83.00 288.18,83.00 288.18,84.32 288.58,84.32 288.58,84.97 288.93,84.97 288.93,85.47 289.46,85.47 289.46,86.22 290.16,86.22 290.16,87.20 290.63,87.20 290.63,87.87 291.22,87.87 291.22,88.71 291.73,88.71 291.73,89.43 292.50,89.43 292.50,90.51 293.33,90.51 293.33,91.62 293.90,91.62 293.90,92.38 294.77,92.38 294.77,93.54 295.17,93.54 295.17,94.09 295.96,94.09 295.96,95.15 296.80,95.15 296.80,96.31 297.26,96.31 297.26,96.99 298.02,96.99 298.02,98.10 298.71,98.10 298.71,99.11 299.62,99.11 299.62,100.43 300.14,100.43 300.14,101.19 300.84,101.19 300.84,102.29 301.74,102.29 301.74,103.85 302.51,103.85 302.51,105.20 303.11,105.20 303.11,106.23 303.58,106.23 303.58,107.06 304.55,107.06 304.55,108.74 305.25,108.74 305.25,109.45 306.28,109.45 306.28,110.29 306.81,110.29 306.81,110.72 307.74,110.72 307.74,111.48 308.69,111.48 308.69,112.25 309.71,112.25 309.71,113.08 310.19,113.08 310.19,113.47 310.90,113.47 310.90,114.02 311.40,114.02 311.40,114.26 312.36,114.26 312.36,114.72 313.08,114.72 313.08,115.06 314.19,115.06 314.19,115.59 314.94,115.59 314.94,115.95 315.96,115.95 315.96,116.43 317.05,116.43 317.05,116.96 317.73,116.96 317.73,117.52 318.64,117.52 318.64,118.32 319.84,118.32 319.84,119.37 320.75,119.37 320.75,120.17 321.55,120.17 321.55,120.87 322.29,120.87 322.29,121.52 323.43,121.52 323.43,122.31 324.13,122.31 324.13,122.58 325.15,122.58 325.15,122.96 326.15,122.96 326.15,123.34 327.15,123.34 327.15,123.72 327.84,123.72 327.84,123.97 328.95,123.97 328.95,124.39 330.29,124.39 330.29,124.89 331.15,124.89 331.15,125.22 332.04,125.22 332.04,125.43 333.42,125.43 333.42,125.71 334.54,125.71 334.54,125.94 335.41,125.94 335.41,126.12 336.07,126.12 336.07,126.25 337.37,126.25 337.37,126.52 338.34,126.52 338.34,126.72 339.43,126.72 339.43,126.94 340.35,126.94 340.35,127.12 341.61,127.12 341.61,127.36 342.98,127.36 342.98,127.52 343.97,127.52 343.97,127.63 344.76,127.63 344.76,127.72 346.42,127.72 346.42,127.91 348.03,127.91 348.03,128.10 348.80,128.10 348.80,128.19 350.11,128.19 350.11,128.34 351.56,128.34 351.56,128.50 352.75,128.50 352.75,128.64 354.29,128.64 354.29,128.82 356.09,128.82 356.09,129.02 357.53,129.02 357.53,129.17 358.78,129.17 358.78,129.29 359.82,129.29 359.82,129.40 360.94,129.40 360.94,129.51 361.95,129.51 361.95,129.62 362.93,129.62 362.93,129.72 364.03,129.72 364.03,129.83 365.88,129.83 365.88,130.02 367.40,130.02 367.40,130.17 369.26,130.17 369.26,130.36 371.29,130.36 371.29,130.48 373.22,130.48 373.22,130.54 374.23,130.54 374.23,130.56 376.36,130.56 376.36,130.62 377.45,130.62 377.45,130.65 379.44,130.65 379.44,130.71 381.56,130.71 381.56,130.77 383.46,130.77 383.46,130.82 385.05,130.82 385.05,130.87 386.19,130.87 386.19,130.90 387.37,130.90 387.37,130.93 389.34,130.93 389.34,130.99 390.77,130.99 390.77,131.03 392.63,131.03 392.63,131.08 394.14,131.08 394.14,131.12 395.50,131.12 395.50,131.16 397.08,131.16 397.08,131.20 399.34,131.20 399.34,131.27 401.27,131.27 401.27,131.32 403.07,131.32 403.07,131.37 405.05,131.37 405.05,131.42 407.17,131.42 407.17,131.48 409.25,131.48 409.25,131.54 411.25,131.54 411.25,131.60 414.17,131.60 414.17,131.68 416.77,131.68 416.77,131.75 418.49,131.75 418.49,131.80 420.40,131.80 420.40,132.30 422.09,132.30 422.09,132.60 424.13,132.60 424.13,132.61 425.57,132.61 425.57,132.61 428.36,132.61 428.36,132.63 430.86,132.63 430.86,132.64 433.13,132.64 433.13,132.65 436.35,132.65 436.35,132.66 438.51,132.66 438.51,132.67 441.20,132.67 441.20,132.68 444.66,132.68 444.66,132.70 447.41,132.70 447.41,132.71 450.32,132.71 450.32,132.73 452.75,132.73 452.75,132.74 456.60,132.74 456.60,132.75 459.99,132.75 459.99,132.77 462.41,132.77 462.41,132.78 464.86,132.78 464.86,132.79 464.86,132.79" fill="none" stroke="#c8102e" stroke-width="1.7"/>
<line x1="285.50" y1="73.79" x2="285.50" y2="79.79" stroke="#c8102e" stroke-width="1.0"/>
<line x1="287.02" y1="78.66" x2="287.02" y2="84.66" stroke="#c8102e" stroke-width="1.0"/>
<line x1="288.55" y1="81.32" x2="288.55" y2="87.32" stroke="#c8102e" stroke-width="1.0"/>
<line x1="290.30" y1="84.20" x2="290.30" y2="90.20" stroke="#c8102e" stroke-width="1.0"/>
<line x1="292.04" y1="86.43" x2="292.04" y2="92.43" stroke="#c8102e" stroke-width="1.0"/>
<line x1="293.57" y1="88.62" x2="293.57" y2="94.62" stroke="#c8102e" stroke-width="1.0"/>
<line x1="295.10" y1="90.54" x2="295.10" y2="96.54" stroke="#c8102e" stroke-width="1.0"/>
<line x1="296.84" y1="93.31" x2="296.84" y2="99.31" stroke="#c8102e" stroke-width="1.0"/>
<line x1="298.59" y1="95.10" x2="298.59" y2="101.10" stroke="#c8102e" stroke-width="1.0"/>
<line x1="300.12" y1="97.43" x2="300.12" y2="103.43" stroke="#c8102e" stroke-width="1.0"/>
<line x1="302.30" y1="100.85" x2="302.30" y2="106.85" stroke="#c8102e" stroke-width="1.0"/>
<line x1="303.82" y1="104.06" x2="303.82" y2="110.06" stroke="#c8102e" stroke-width="1.0"/>
<line x1="305.57" y1="106.45" x2="305.57" y2="112.45" stroke="#c8102e" stroke-width="1.0"/>
<line x1="307.75" y1="108.48" x2="307.75" y2="114.48" stroke="#c8102e" stroke-width="1.0"/>
<line x1="309.93" y1="110.08" x2="309.93" y2="116.08" stroke="#c8102e" stroke-width="1.0"/>
<line x1="312.12" y1="111.26" x2="312.12" y2="117.26" stroke="#c8102e" stroke-width="1.0"/>
<line x1="313.86" y1="112.06" x2="313.86" y2="118.06" stroke="#c8102e" stroke-width="1.0"/>
<line x1="315.39" y1="112.95" x2="315.39" y2="118.95" stroke="#c8102e" stroke-width="1.0"/>
<line x1="316.92" y1="113.43" x2="316.92" y2="119.43" stroke="#c8102e" stroke-width="1.0"/>
<line x1="318.66" y1="115.32" x2="318.66" y2="121.32" stroke="#c8102e" stroke-width="1.0"/>
<line x1="320.84" y1="117.17" x2="320.84" y2="123.17" stroke="#c8102e" stroke-width="1.0"/>
<line x1="323.03" y1="118.52" x2="323.03" y2="124.52" stroke="#c8102e" stroke-width="1.0"/>
<line x1="325.21" y1="119.96" x2="325.21" y2="125.96" stroke="#c8102e" stroke-width="1.0"/>
<line x1="327.39" y1="120.72" x2="327.39" y2="126.72" stroke="#c8102e" stroke-width="1.0"/>
<line x1="329.57" y1="121.39" x2="329.57" y2="127.39" stroke="#c8102e" stroke-width="1.0"/>
<line x1="331.75" y1="122.22" x2="331.75" y2="128.22" stroke="#c8102e" stroke-width="1.0"/>
<line x1="335.03" y1="122.94" x2="335.03" y2="128.94" stroke="#c8102e" stroke-width="1.0"/>
<line x1="337.21" y1="123.25" x2="337.21" y2="129.25" stroke="#c8102e" stroke-width="1.0"/>
<line x1="339.39" y1="123.72" x2="339.39" y2="129.72" stroke="#c8102e" stroke-width="1.0"/>
<line x1="341.57" y1="124.12" x2="341.57" y2="130.12" stroke="#c8102e" stroke-width="1.0"/>
<line x1="343.75" y1="124.52" x2="343.75" y2="130.52" stroke="#c8102e" stroke-width="1.0"/>
<line x1="345.94" y1="124.72" x2="345.94" y2="130.72" stroke="#c8102e" stroke-width="1.0"/>
<line x1="349.21" y1="125.19" x2="349.21" y2="131.19" stroke="#c8102e" stroke-width="1.0"/>
<line x1="351.39" y1="125.34" x2="351.39" y2="131.34" stroke="#c8102e" stroke-width="1.0"/>
<line x1="353.57" y1="125.64" x2="353.57" y2="131.64" stroke="#c8102e" stroke-width="1.0"/>
<line x1="356.85" y1="126.02" x2="356.85" y2="132.02" stroke="#c8102e" stroke-width="1.0"/>
<line x1="359.03" y1="126.29" x2="359.03" y2="132.29" stroke="#c8102e" stroke-width="1.0"/>
<line x1="362.30" y1="126.62" x2="362.30" y2="132.62" stroke="#c8102e" stroke-width="1.0"/>
<line x1="365.57" y1="126.83" x2="365.57" y2="132.83" stroke="#c8102e" stroke-width="1.0"/>
<line x1="368.85" y1="127.17" x2="368.85" y2="133.17" stroke="#c8102e" stroke-width="1.0"/>
<line x1="372.12" y1="127.48" x2="372.12" y2="133.48" stroke="#c8102e" stroke-width="1.0"/>
<line x1="375.39" y1="127.56" x2="375.39" y2="133.56" stroke="#c8102e" stroke-width="1.0"/>
<line x1="378.67" y1="127.65" x2="378.67" y2="133.65" stroke="#c8102e" stroke-width="1.0"/>
<line x1="381.94" y1="127.77" x2="381.94" y2="133.77" stroke="#c8102e" stroke-width="1.0"/>
<line x1="384.12" y1="127.82" x2="384.12" y2="133.82" stroke="#c8102e" stroke-width="1.0"/>
<line x1="389.58" y1="127.99" x2="389.58" y2="133.99" stroke="#c8102e" stroke-width="1.0"/>
<line x1="392.85" y1="128.08" x2="392.85" y2="134.08" stroke="#c8102e" stroke-width="1.0"/>
<line x1="395.03" y1="128.12" x2="395.03" y2="134.12" stroke="#c8102e" stroke-width="1.0"/>
<line x1="397.21" y1="128.20" x2="397.21" y2="134.20" stroke="#c8102e" stroke-width="1.0"/>
<line x1="399.40" y1="128.27" x2="399.40" y2="134.27" stroke="#c8102e" stroke-width="1.0"/>
<line x1="402.67" y1="128.32" x2="402.67" y2="134.32" stroke="#c8102e" stroke-width="1.0"/>
<line x1="404.85" y1="128.37" x2="404.85" y2="134.37" stroke="#c8102e" stroke-width="1.0"/>
<line x1="407.03" y1="128.42" x2="407.03" y2="134.42" stroke="#c8102e" stroke-width="1.0"/>
<line x1="410.31" y1="128.54" x2="410.31" y2="134.54" stroke="#c8102e" stroke-width="1.0"/>
<line x1="415.76" y1="128.68" x2="415.76" y2="134.68" stroke="#c8102e" stroke-width="1.0"/>
<line x1="423.40" y1="129.60" x2="423.40" y2="135.60" stroke="#c8102e" stroke-width="1.0"/>
<line x1="426.67" y1="129.61" x2="426.67" y2="135.61" stroke="#c8102e" stroke-width="1.0"/>
<line x1="433.22" y1="129.65" x2="433.22" y2="135.65" stroke="#c8102e" stroke-width="1.0"/>
<line x1="443.04" y1="129.68" x2="443.04" y2="135.68" stroke="#c8102e" stroke-width="1.0"/>
<line x1="447.40" y1="129.70" x2="447.40" y2="135.70" stroke="#c8102e" stroke-width="1.0"/>
<line x1="450.67" y1="129.73" x2="450.67" y2="135.73" stroke="#c8102e" stroke-width="1.0"/>
<line x1="453.95" y1="129.74" x2="453.95" y2="135.74" stroke="#c8102e" stroke-width="1.0"/>
<line x1="285.93" y1="86.52" x2="285.93" y2="92.52" stroke="#1f4e8c" stroke-width="1.0"/>
<line x1="289.20" y1="96.55" x2="289.20" y2="102.55" stroke="#1f4e8c" stroke-width="1.0"/>
<line x1="293.57" y1="104.24" x2="293.57" y2="110.24" stroke="#1f4e8c" stroke-width="1.0"/>
<line x1="297.93" y1="110.94" x2="297.93" y2="116.94" stroke="#1f4e8c" stroke-width="1.0"/>
<line x1="301.21" y1="116.91" x2="301.21" y2="122.91" stroke="#1f4e8c" stroke-width="1.0"/>
<line x1="304.48" y1="120.97" x2="304.48" y2="126.97" stroke="#1f4e8c" stroke-width="1.0"/>
<line x1="309.93" y1="124.29" x2="309.93" y2="130.29" stroke="#1f4e8c" stroke-width="1.0"/>
<line x1="314.30" y1="125.55" x2="314.30" y2="131.55" stroke="#1f4e8c" stroke-width="1.0"/>
<line x1="317.57" y1="126.69" x2="317.57" y2="132.69" stroke="#1f4e8c" stroke-width="1.0"/>
<line x1="320.84" y1="127.70" x2="320.84" y2="133.70" stroke="#1f4e8c" stroke-width="1.0"/>
<line x1="325.21" y1="128.60" x2="325.21" y2="134.60" stroke="#1f4e8c" stroke-width="1.0"/>
<line x1="330.66" y1="129.42" x2="330.66" y2="135.42" stroke="#1f4e8c" stroke-width="1.0"/>
<line x1="337.21" y1="130.62" x2="337.21" y2="136.62" stroke="#1f4e8c" stroke-width="1.0"/>
<line x1="344.85" y1="133.50" x2="344.85" y2="139.50" stroke="#1f4e8c" stroke-width="1.0"/>
<line x1="349.21" y1="133.50" x2="349.21" y2="139.50" stroke="#1f4e8c" stroke-width="1.0"/>
<line x1="353.57" y1="133.50" x2="353.57" y2="139.50" stroke="#1f4e8c" stroke-width="1.0"/>
<line x1="357.94" y1="133.50" x2="357.94" y2="139.50" stroke="#1f4e8c" stroke-width="1.0"/>
<line x1="362.30" y1="133.50" x2="362.30" y2="139.50" stroke="#1f4e8c" stroke-width="1.0"/>
<line x1="367.76" y1="133.50" x2="367.76" y2="139.50" stroke="#1f4e8c" stroke-width="1.0"/>
<line x1="372.12" y1="133.50" x2="372.12" y2="139.50" stroke="#1f4e8c" stroke-width="1.0"/>
<line x1="377.58" y1="133.50" x2="377.58" y2="139.50" stroke="#1f4e8c" stroke-width="1.0"/>
<line x1="397.21" y1="139.74" x2="397.21" y2="145.74" stroke="#1f4e8c" stroke-width="1.0"/>
<line x1="400.49" y1="139.74" x2="400.49" y2="145.74" stroke="#1f4e8c" stroke-width="1.0"/>
<line x1="403.76" y1="139.74" x2="403.76" y2="145.74" stroke="#1f4e8c" stroke-width="1.0"/>
<line x1="407.03" y1="139.74" x2="407.03" y2="145.74" stroke="#1f4e8c" stroke-width="1.0"/>
<line x1="411.40" y1="139.74" x2="411.40" y2="145.74" stroke="#1f4e8c" stroke-width="1.0"/>
<line x1="414.67" y1="139.74" x2="414.67" y2="145.74" stroke="#1f4e8c" stroke-width="1.0"/>
<line x1="417.94" y1="139.74" x2="417.94" y2="145.74" stroke="#1f4e8c" stroke-width="1.0"/>
<line x1="421.22" y1="139.74" x2="421.22" y2="145.74" stroke="#1f4e8c" stroke-width="1.0"/>
<line x1="424.49" y1="139.74" x2="424.49" y2="145.74" stroke="#1f4e8c" stroke-width="1.0"/>
<line x1="272.80" y1="66.80" x2="272.80" y2="173.30" stroke="#231f20" stroke-width="1.1"/>
<line x1="272.30" y1="172.80" x2="512.60" y2="172.80" stroke="#231f20" stroke-width="1.1"/>
<line x1="269.60" y1="70.00" x2="272.80" y2="70.00" stroke="#231f20" stroke-width="0.9"/>
<text x="266.70" y="70.30" font-size="9.24" fill="#231f20" text-anchor="end" dominant-baseline="central" textLength="15.30" lengthAdjust="spacingAndGlyphs" stroke="#231f20" stroke-width="0.12">1.00</text>
<line x1="269.60" y1="94.38" x2="272.80" y2="94.38" stroke="#231f20" stroke-width="0.9"/>
<text x="266.70" y="94.67" font-size="9.24" fill="#231f20" text-anchor="end" dominant-baseline="central" textLength="15.30" lengthAdjust="spacingAndGlyphs" stroke="#231f20" stroke-width="0.12">0.75</text>
<line x1="269.60" y1="118.75" x2="272.80" y2="118.75" stroke="#231f20" stroke-width="0.9"/>
<text x="266.70" y="119.05" font-size="9.24" fill="#231f20" text-anchor="end" dominant-baseline="central" textLength="15.30" lengthAdjust="spacingAndGlyphs" stroke="#231f20" stroke-width="0.12">0.50</text>
<line x1="269.60" y1="143.12" x2="272.80" y2="143.12" stroke="#231f20" stroke-width="0.9"/>
<text x="266.70" y="143.43" font-size="9.24" fill="#231f20" text-anchor="end" dominant-baseline="central" textLength="15.30" lengthAdjust="spacingAndGlyphs" stroke="#231f20" stroke-width="0.12">0.25</text>
<line x1="269.60" y1="167.50" x2="272.80" y2="167.50" stroke="#231f20" stroke-width="0.9"/>
<text x="266.70" y="167.80" font-size="9.24" fill="#231f20" text-anchor="end" dominant-baseline="central" textLength="15.30" lengthAdjust="spacingAndGlyphs" stroke="#231f20" stroke-width="0.12">0.00</text>
<line x1="283.75" y1="172.80" x2="283.75" y2="176.00" stroke="#231f20" stroke-width="0.9"/>
<text x="283.75" y="182.60" font-size="9.46" fill="#231f20" text-anchor="middle" dominant-baseline="central" textLength="4.40" lengthAdjust="spacingAndGlyphs" stroke="#231f20" stroke-width="0.12">0</text>
<line x1="305.57" y1="172.80" x2="305.57" y2="176.00" stroke="#231f20" stroke-width="0.9"/>
<text x="305.57" y="182.60" font-size="9.46" fill="#231f20" text-anchor="middle" dominant-baseline="central" textLength="4.40" lengthAdjust="spacingAndGlyphs" stroke="#231f20" stroke-width="0.12">1</text>
<line x1="327.39" y1="172.80" x2="327.39" y2="176.00" stroke="#231f20" stroke-width="0.9"/>
<text x="327.39" y="182.60" font-size="9.46" fill="#231f20" text-anchor="middle" dominant-baseline="central" textLength="4.40" lengthAdjust="spacingAndGlyphs" stroke="#231f20" stroke-width="0.12">2</text>
<line x1="349.21" y1="172.80" x2="349.21" y2="176.00" stroke="#231f20" stroke-width="0.9"/>
<text x="349.21" y="182.60" font-size="9.46" fill="#231f20" text-anchor="middle" dominant-baseline="central" textLength="4.40" lengthAdjust="spacingAndGlyphs" stroke="#231f20" stroke-width="0.12">3</text>
<line x1="371.03" y1="172.80" x2="371.03" y2="176.00" stroke="#231f20" stroke-width="0.9"/>
<text x="371.03" y="182.60" font-size="9.46" fill="#231f20" text-anchor="middle" dominant-baseline="central" textLength="4.40" lengthAdjust="spacingAndGlyphs" stroke="#231f20" stroke-width="0.12">4</text>
<line x1="392.85" y1="172.80" x2="392.85" y2="176.00" stroke="#231f20" stroke-width="0.9"/>
<text x="392.85" y="182.60" font-size="9.46" fill="#231f20" text-anchor="middle" dominant-baseline="central" textLength="4.40" lengthAdjust="spacingAndGlyphs" stroke="#231f20" stroke-width="0.12">5</text>
<line x1="414.67" y1="172.80" x2="414.67" y2="176.00" stroke="#231f20" stroke-width="0.9"/>
<text x="414.67" y="182.60" font-size="9.46" fill="#231f20" text-anchor="middle" dominant-baseline="central" textLength="4.40" lengthAdjust="spacingAndGlyphs" stroke="#231f20" stroke-width="0.12">6</text>
<line x1="436.49" y1="172.80" x2="436.49" y2="176.00" stroke="#231f20" stroke-width="0.9"/>
<text x="436.49" y="182.60" font-size="9.46" fill="#231f20" text-anchor="middle" dominant-baseline="central" textLength="4.40" lengthAdjust="spacingAndGlyphs" stroke="#231f20" stroke-width="0.12">7</text>
<line x1="458.31" y1="172.80" x2="458.31" y2="176.00" stroke="#231f20" stroke-width="0.9"/>
<text x="458.31" y="182.60" font-size="9.46" fill="#231f20" text-anchor="middle" dominant-baseline="central" textLength="4.40" lengthAdjust="spacingAndGlyphs" stroke="#231f20" stroke-width="0.12">8</text>
<line x1="480.13" y1="172.80" x2="480.13" y2="176.00" stroke="#231f20" stroke-width="0.9"/>
<text x="480.13" y="182.60" font-size="9.46" fill="#231f20" text-anchor="middle" dominant-baseline="central" textLength="4.40" lengthAdjust="spacingAndGlyphs" stroke="#231f20" stroke-width="0.12">9</text>
<line x1="501.95" y1="172.80" x2="501.95" y2="176.00" stroke="#231f20" stroke-width="0.9"/>
<text x="501.95" y="182.60" font-size="9.46" fill="#231f20" text-anchor="middle" dominant-baseline="central" textLength="8.80" lengthAdjust="spacingAndGlyphs" stroke="#231f20" stroke-width="0.12">10</text>
<text x="393.40" y="196.30" font-size="9.68" fill="#231f20" text-anchor="middle" dominant-baseline="central" textLength="96.00" lengthAdjust="spacingAndGlyphs" stroke="#231f20" stroke-width="0.12">Overall survival time (years)</text>
<text x="241.70" y="118.80" font-size="9.68" fill="#231f20" text-anchor="middle" dominant-baseline="central" transform="rotate(-90 241.70 118.80)" textLength="66.50" lengthAdjust="spacingAndGlyphs" stroke="#231f20" stroke-width="0.12">Survival probability</text>
<text x="413.80" y="36.20" font-size="8.8" fill="#231f20" text-anchor="start" dominant-baseline="central" textLength="67.10" lengthAdjust="spacingAndGlyphs" stroke="#231f20" stroke-width="0.12">GZMK+ early Tem</text>
<rect x="415.60" y="46.10" width="6.20" height="6.40" fill="#f6c4cc"/>
<line x1="415.60" y1="49.30" x2="421.80" y2="49.30" stroke="#c8102e" stroke-width="1.3"/>
<line x1="418.70" y1="46.70" x2="418.70" y2="51.90" stroke="#c8102e" stroke-width="0.9"/>
<rect x="415.60" y="56.80" width="6.20" height="6.40" fill="#c8d2ea"/>
<line x1="415.60" y1="60.00" x2="421.80" y2="60.00" stroke="#1f4e8c" stroke-width="1.3"/>
<line x1="418.70" y1="57.40" x2="418.70" y2="62.60" stroke="#1f4e8c" stroke-width="0.9"/>
<text x="425.40" y="49.50" font-size="8.8" fill="#231f20" text-anchor="start" dominant-baseline="central" textLength="87.30" lengthAdjust="spacingAndGlyphs" stroke="#231f20" stroke-width="0.12">GZMK+ early Tem = high</text>
<text x="425.40" y="60.20" font-size="8.8" fill="#231f20" text-anchor="start" dominant-baseline="central" textLength="83.60" lengthAdjust="spacingAndGlyphs" stroke="#231f20" stroke-width="0.12">GZMK+ early Tem = low</text>
<text x="376.50" y="90.60" font-size="8.8" fill="#231f20" text-anchor="start" textLength="32.10" lengthAdjust="spacingAndGlyphs" stroke="#231f20" stroke-width="0.12">Log-rank</text>
<text x="376.5" y="100.4" font-size="8.8" fill="#231f20" stroke="#231f20" stroke-width="0.12" textLength="34.6" lengthAdjust="spacingAndGlyphs"><tspan font-style="italic">P</tspan> = .0043</text>
<text x="273.30" y="209.70" font-size="9.02" fill="#231f20" text-anchor="start" dominant-baseline="central" textLength="54.20" lengthAdjust="spacingAndGlyphs" stroke="#231f20" stroke-width="0.12">Number at risk</text>
<line x1="263.00" y1="221.40" x2="269.40" y2="221.40" stroke="#c8283c" stroke-width="1.3"/>
<line x1="263.00" y1="233.40" x2="269.40" y2="233.40" stroke="#2c5c98" stroke-width="1.3"/>
<text x="283.75" y="220.90" font-size="9.46" fill="#c8283c" text-anchor="middle" dominant-baseline="central" textLength="14.35" lengthAdjust="spacingAndGlyphs" stroke="#c8283c" stroke-width="0.12">303</text>
<text x="283.75" y="232.80" font-size="9.46" fill="#2c5c98" text-anchor="middle" dominant-baseline="central" textLength="14.35" lengthAdjust="spacingAndGlyphs" stroke="#2c5c98" stroke-width="0.12">141</text>
<text x="305.57" y="220.90" font-size="9.46" fill="#c8283c" text-anchor="middle" dominant-baseline="central" textLength="14.35" lengthAdjust="spacingAndGlyphs" stroke="#c8283c" stroke-width="0.12">142</text>
<text x="305.57" y="232.80" font-size="9.46" fill="#2c5c98" text-anchor="middle" dominant-baseline="central" textLength="9.57" lengthAdjust="spacingAndGlyphs" stroke="#2c5c98" stroke-width="0.12">52</text>
<text x="327.39" y="220.90" font-size="9.46" fill="#c8283c" text-anchor="middle" dominant-baseline="central" textLength="9.57" lengthAdjust="spacingAndGlyphs" stroke="#c8283c" stroke-width="0.12">89</text>
<text x="327.39" y="232.80" font-size="9.46" fill="#2c5c98" text-anchor="middle" dominant-baseline="central" textLength="9.57" lengthAdjust="spacingAndGlyphs" stroke="#2c5c98" stroke-width="0.12">36</text>
<text x="349.21" y="220.90" font-size="9.46" fill="#c8283c" text-anchor="middle" dominant-baseline="central" textLength="9.57" lengthAdjust="spacingAndGlyphs" stroke="#c8283c" stroke-width="0.12">63</text>
<text x="349.21" y="232.80" font-size="9.46" fill="#2c5c98" text-anchor="middle" dominant-baseline="central" textLength="9.57" lengthAdjust="spacingAndGlyphs" stroke="#2c5c98" stroke-width="0.12">24</text>
<text x="371.03" y="220.90" font-size="9.46" fill="#c8283c" text-anchor="middle" dominant-baseline="central" textLength="9.57" lengthAdjust="spacingAndGlyphs" stroke="#c8283c" stroke-width="0.12">45</text>
<text x="371.03" y="232.80" font-size="9.46" fill="#2c5c98" text-anchor="middle" dominant-baseline="central" textLength="9.57" lengthAdjust="spacingAndGlyphs" stroke="#2c5c98" stroke-width="0.12">18</text>
<text x="392.85" y="220.90" font-size="9.46" fill="#c8283c" text-anchor="middle" dominant-baseline="central" textLength="9.57" lengthAdjust="spacingAndGlyphs" stroke="#c8283c" stroke-width="0.12">36</text>
<text x="392.85" y="232.80" font-size="9.46" fill="#2c5c98" text-anchor="middle" dominant-baseline="central" textLength="9.57" lengthAdjust="spacingAndGlyphs" stroke="#2c5c98" stroke-width="0.12">13</text>
<text x="414.67" y="220.90" font-size="9.46" fill="#c8283c" text-anchor="middle" dominant-baseline="central" textLength="9.57" lengthAdjust="spacingAndGlyphs" stroke="#c8283c" stroke-width="0.12">15</text>
<text x="414.67" y="232.80" font-size="9.46" fill="#2c5c98" text-anchor="middle" dominant-baseline="central" textLength="4.78" lengthAdjust="spacingAndGlyphs" stroke="#2c5c98" stroke-width="0.12">7</text>
<text x="436.49" y="220.90" font-size="9.46" fill="#c8283c" text-anchor="middle" dominant-baseline="central" textLength="4.78" lengthAdjust="spacingAndGlyphs" stroke="#c8283c" stroke-width="0.12">9</text>
<text x="436.49" y="232.80" font-size="9.46" fill="#2c5c98" text-anchor="middle" dominant-baseline="central" textLength="4.78" lengthAdjust="spacingAndGlyphs" stroke="#2c5c98" stroke-width="0.12">1</text>
<text x="458.31" y="220.90" font-size="9.46" fill="#c8283c" text-anchor="middle" dominant-baseline="central" textLength="4.78" lengthAdjust="spacingAndGlyphs" stroke="#c8283c" stroke-width="0.12">2</text>
<text x="458.31" y="232.80" font-size="9.46" fill="#2c5c98" text-anchor="middle" dominant-baseline="central" textLength="4.78" lengthAdjust="spacingAndGlyphs" stroke="#2c5c98" stroke-width="0.12">1</text>
<text x="480.13" y="220.90" font-size="9.46" fill="#c8283c" text-anchor="middle" dominant-baseline="central" textLength="4.78" lengthAdjust="spacingAndGlyphs" stroke="#c8283c" stroke-width="0.12">0</text>
<text x="480.13" y="232.80" font-size="9.46" fill="#2c5c98" text-anchor="middle" dominant-baseline="central" textLength="4.78" lengthAdjust="spacingAndGlyphs" stroke="#2c5c98" stroke-width="0.12">0</text>
<text x="501.95" y="220.90" font-size="9.46" fill="#c8283c" text-anchor="middle" dominant-baseline="central" textLength="4.78" lengthAdjust="spacingAndGlyphs" stroke="#c8283c" stroke-width="0.12">0</text>
<text x="501.95" y="232.80" font-size="9.46" fill="#2c5c98" text-anchor="middle" dominant-baseline="central" textLength="4.78" lengthAdjust="spacingAndGlyphs" stroke="#2c5c98" stroke-width="0.12">0</text>
<text x="7.50" y="278.90" font-size="12.5" fill="#000" text-anchor="start" font-weight="bold">C</text>
<rect x="36.30" y="307.00" width="9.70" height="11.73" fill="#f4a890" stroke="#fff" stroke-width="0.9"/>
<rect x="46.00" y="307.00" width="9.70" height="11.73" fill="#2c2a8a" stroke="#fff" stroke-width="0.9"/>
<rect x="55.70" y="307.00" width="9.70" height="11.73" fill="#9484c4" stroke="#fff" stroke-width="0.9"/>
<rect x="65.40" y="307.00" width="9.70" height="11.73" fill="#f05a28" stroke="#fff" stroke-width="0.9"/>
<rect x="75.10" y="307.00" width="9.70" height="11.73" fill="#e8440e" stroke="#fff" stroke-width="0.9"/>
<text x="87.40" y="312.87" font-size="8.8" fill="#231f20" text-anchor="start" dominant-baseline="central" textLength="20.45" lengthAdjust="spacingAndGlyphs" stroke="#231f20" stroke-width="0.12">CD28</text>
<rect x="36.30" y="318.73" width="9.70" height="11.73" fill="#8474bc" stroke="#fff" stroke-width="0.9"/>
<rect x="46.00" y="318.73" width="9.70" height="11.73" fill="#302c88" stroke="#fff" stroke-width="0.9"/>
<rect x="55.70" y="318.73" width="9.70" height="11.73" fill="#b4a6dc" stroke="#fff" stroke-width="0.9"/>
<rect x="65.40" y="318.73" width="9.70" height="11.73" fill="#2c2a8a" stroke="#fff" stroke-width="0.9"/>
<rect x="75.10" y="318.73" width="9.70" height="11.73" fill="#e8440e" stroke="#fff" stroke-width="0.9"/>
<text x="87.40" y="324.60" font-size="8.8" fill="#231f20" text-anchor="start" dominant-baseline="central" textLength="15.56" lengthAdjust="spacingAndGlyphs" stroke="#231f20" stroke-width="0.12">PD1</text>
<rect x="36.30" y="330.46" width="9.70" height="11.73" fill="#7a6ab4" stroke="#fff" stroke-width="0.9"/>
<rect x="46.00" y="330.46" width="9.70" height="11.73" fill="#2c2a8a" stroke="#fff" stroke-width="0.9"/>
<rect x="55.70" y="330.46" width="9.70" height="11.73" fill="#6454a6" stroke="#fff" stroke-width="0.9"/>
<rect x="65.40" y="330.46" width="9.70" height="11.73" fill="#e8440e" stroke="#fff" stroke-width="0.9"/>
<rect x="75.10" y="330.46" width="9.70" height="11.73" fill="#f8ecec" stroke="#fff" stroke-width="0.9"/>
<text x="87.40" y="336.32" font-size="8.8" fill="#231f20" text-anchor="start" dominant-baseline="central" textLength="20.45" lengthAdjust="spacingAndGlyphs" stroke="#231f20" stroke-width="0.12">CD27</text>
<rect x="36.30" y="342.19" width="9.70" height="11.73" fill="#7464b0" stroke="#fff" stroke-width="0.9"/>
<rect x="46.00" y="342.19" width="9.70" height="11.73" fill="#5a4aa2" stroke="#fff" stroke-width="0.9"/>
<rect x="55.70" y="342.19" width="9.70" height="11.73" fill="#2c2a8a" stroke="#fff" stroke-width="0.9"/>
<rect x="65.40" y="342.19" width="9.70" height="11.73" fill="#e8440e" stroke="#fff" stroke-width="0.9"/>
<rect x="75.10" y="342.19" width="9.70" height="11.73" fill="#7464b0" stroke="#fff" stroke-width="0.9"/>
<text x="87.40" y="348.06" font-size="8.8" fill="#231f20" text-anchor="start" dominant-baseline="central" textLength="21.78" lengthAdjust="spacingAndGlyphs" stroke="#231f20" stroke-width="0.12">CCR7</text>
<rect x="36.30" y="353.92" width="9.70" height="11.73" fill="#7c6cb8" stroke="#fff" stroke-width="0.9"/>
<rect x="46.00" y="353.92" width="9.70" height="11.73" fill="#e8440e" stroke="#fff" stroke-width="0.9"/>
<rect x="55.70" y="353.92" width="9.70" height="11.73" fill="#f2dce4" stroke="#fff" stroke-width="0.9"/>
<rect x="65.40" y="353.92" width="9.70" height="11.73" fill="#f29070" stroke="#fff" stroke-width="0.9"/>
<rect x="75.10" y="353.92" width="9.70" height="11.73" fill="#2c2a8a" stroke="#fff" stroke-width="0.9"/>
<text x="87.40" y="359.79" font-size="8.8" fill="#231f20" text-anchor="start" dominant-baseline="central" textLength="31.57" lengthAdjust="spacingAndGlyphs" stroke="#231f20" stroke-width="0.12">CD45RA</text>
<rect x="36.30" y="365.65" width="9.70" height="11.73" fill="#2c2a8a" stroke="#fff" stroke-width="0.9"/>
<rect x="46.00" y="365.65" width="9.70" height="11.73" fill="#8474c0" stroke="#fff" stroke-width="0.9"/>
<rect x="55.70" y="365.65" width="9.70" height="11.73" fill="#e8440e" stroke="#fff" stroke-width="0.9"/>
<rect x="65.40" y="365.65" width="9.70" height="11.73" fill="#2c2a8a" stroke="#fff" stroke-width="0.9"/>
<rect x="75.10" y="365.65" width="9.70" height="11.73" fill="#2c2a8a" stroke="#fff" stroke-width="0.9"/>
<text x="87.40" y="371.51" font-size="8.8" fill="#231f20" text-anchor="start" dominant-baseline="central" textLength="20.45" lengthAdjust="spacingAndGlyphs" stroke="#231f20" stroke-width="0.12">CD57</text>
<rect x="36.30" y="377.38" width="9.70" height="11.73" fill="#ea5a34" stroke="#fff" stroke-width="0.9"/>
<rect x="46.00" y="377.38" width="9.70" height="11.73" fill="#e8440e" stroke="#fff" stroke-width="0.9"/>
<rect x="55.70" y="377.38" width="9.70" height="11.73" fill="#f8e2da" stroke="#fff" stroke-width="0.9"/>
<rect x="65.40" y="377.38" width="9.70" height="11.73" fill="#2c2a8a" stroke="#fff" stroke-width="0.9"/>
<rect x="75.10" y="377.38" width="9.70" height="11.73" fill="#c8c0e4" stroke="#fff" stroke-width="0.9"/>
<text x="87.40" y="383.25" font-size="8.8" fill="#231f20" text-anchor="start" dominant-baseline="central" textLength="26.23" lengthAdjust="spacingAndGlyphs" stroke="#231f20" stroke-width="0.12">KLRG1</text>
<rect x="36.30" y="389.11" width="9.70" height="11.73" fill="#e8440e" stroke="#fff" stroke-width="0.9"/>
<rect x="46.00" y="389.11" width="9.70" height="11.73" fill="#f4b8a8" stroke="#fff" stroke-width="0.9"/>
<rect x="55.70" y="389.11" width="9.70" height="11.73" fill="#8474bc" stroke="#fff" stroke-width="0.9"/>
<rect x="65.40" y="389.11" width="9.70" height="11.73" fill="#2c2a8a" stroke="#fff" stroke-width="0.9"/>
<rect x="75.10" y="389.11" width="9.70" height="11.73" fill="#2c2a8a" stroke="#fff" stroke-width="0.9"/>
<text x="87.40" y="394.98" font-size="8.8" fill="#231f20" text-anchor="start" dominant-baseline="central" textLength="24.90" lengthAdjust="spacingAndGlyphs" stroke="#231f20" stroke-width="0.12">CD160</text>
<rect x="36.30" y="400.84" width="9.70" height="11.73" fill="#e8440e" stroke="#fff" stroke-width="0.9"/>
<rect x="46.00" y="400.84" width="9.70" height="11.73" fill="#3e36a0" stroke="#fff" stroke-width="0.9"/>
<rect x="55.70" y="400.84" width="9.70" height="11.73" fill="#5a4aa2" stroke="#fff" stroke-width="0.9"/>
<rect x="65.40" y="400.84" width="9.70" height="11.73" fill="#2c2a8a" stroke="#fff" stroke-width="0.9"/>
<rect x="75.10" y="400.84" width="9.70" height="11.73" fill="#2c2a8a" stroke="#fff" stroke-width="0.9"/>
<text x="87.40" y="406.70" font-size="8.8" fill="#231f20" text-anchor="start" dominant-baseline="central" textLength="20.45" lengthAdjust="spacingAndGlyphs" stroke="#231f20" stroke-width="0.12">CD56</text>
<rect x="36.30" y="413.97" width="9.70" height="8.40" fill="#f5d016" stroke="#fff" stroke-width="0.6"/>
<text x="41.15" y="425.00" font-size="8.8" fill="#231f20" text-anchor="end" dominant-baseline="central" transform="rotate(-90 41.15 425.00)" textLength="11.56" lengthAdjust="spacingAndGlyphs" stroke="#231f20" stroke-width="0.12">Act</text>
<rect x="46.00" y="413.97" width="9.70" height="8.40" fill="#1a90c0" stroke="#fff" stroke-width="0.6"/>
<text x="50.85" y="425.00" font-size="8.8" fill="#231f20" text-anchor="end" dominant-baseline="central" transform="rotate(-90 50.85 425.00)" textLength="8.89" lengthAdjust="spacingAndGlyphs" stroke="#231f20" stroke-width="0.12">Int</text>
<rect x="55.70" y="413.97" width="9.70" height="8.40" fill="#18a070" stroke="#fff" stroke-width="0.6"/>
<text x="60.55" y="425.00" font-size="8.8" fill="#231f20" text-anchor="end" dominant-baseline="central" transform="rotate(-90 60.55 425.00)" textLength="38.69" lengthAdjust="spacingAndGlyphs" stroke="#231f20" stroke-width="0.12">Term/SenL</text>
<rect x="65.40" y="413.97" width="9.70" height="8.40" fill="#f5a000" stroke="#fff" stroke-width="0.6"/>
<text x="70.25" y="425.00" font-size="8.8" fill="#231f20" text-anchor="end" dominant-baseline="central" transform="rotate(-90 70.25 425.00)" textLength="20.45" lengthAdjust="spacingAndGlyphs" stroke="#231f20" stroke-width="0.12">Naive</text>
<rect x="75.10" y="413.97" width="9.70" height="8.40" fill="#20c0e0" stroke="#fff" stroke-width="0.6"/>
<text x="79.95" y="425.00" font-size="8.8" fill="#231f20" text-anchor="end" dominant-baseline="central" transform="rotate(-90 79.95 425.00)" textLength="31.86" lengthAdjust="spacingAndGlyphs" stroke="#231f20" stroke-width="0.12">Early Tm</text>
<polyline points="50.85,306.50 50.85,296.90 60.55,296.90 60.55,306.50" fill="none" stroke="#6a6a6a" stroke-width="0.9"/>
<polyline points="41.15,306.50 41.15,293.80 55.70,293.80 55.70,296.90" fill="none" stroke="#6a6a6a" stroke-width="0.9"/>
<polyline points="70.25,306.50 70.25,293.50 79.95,293.50 79.95,306.50" fill="none" stroke="#6a6a6a" stroke-width="0.9"/>
<polyline points="48.42,293.80 48.42,290.00 75.10,290.00 75.10,293.50" fill="none" stroke="#6a6a6a" stroke-width="0.9"/>
<polyline points="35.80,312.87 25.50,312.87 25.50,324.60 35.80,324.60" fill="none" stroke="#6a6a6a" stroke-width="0.9"/>
<polyline points="35.80,336.32 31.80,336.32 31.80,348.06 35.80,348.06" fill="none" stroke="#6a6a6a" stroke-width="0.9"/>
<polyline points="25.50,318.73 22.50,318.73 22.50,342.19 31.80,342.19" fill="none" stroke="#6a6a6a" stroke-width="0.9"/>
<polyline points="35.80,359.79 23.60,359.79 23.60,371.51 35.80,371.51" fill="none" stroke="#6a6a6a" stroke-width="0.9"/>
<polyline points="35.80,383.25 29.50,383.25 29.50,394.98 35.80,394.98" fill="none" stroke="#6a6a6a" stroke-width="0.9"/>
<polyline points="29.50,389.11 24.70,389.11 24.70,406.70 35.80,406.70" fill="none" stroke="#6a6a6a" stroke-width="0.9"/>
<polyline points="23.60,365.65 20.40,365.65 20.40,397.91 24.70,397.91" fill="none" stroke="#6a6a6a" stroke-width="0.9"/>
<polyline points="22.50,330.46 18.20,330.46 18.20,381.78 20.40,381.78" fill="none" stroke="#6a6a6a" stroke-width="0.9"/>
<text x="60.50" y="477.20" font-size="8.8" fill="#231f20" text-anchor="middle" dominant-baseline="central" textLength="51.59" lengthAdjust="spacingAndGlyphs" stroke="#231f20" stroke-width="0.12">scaled median</text>
<text x="60.50" y="487.60" font-size="8.8" fill="#231f20" text-anchor="middle" dominant-baseline="central" textLength="38.69" lengthAdjust="spacingAndGlyphs" stroke="#231f20" stroke-width="0.12">expression</text>
<rect x="43.00" y="496.80" width="35.00" height="5.80" fill="url(#gC)"/>
<line x1="45.00" y1="496.80" x2="45.00" y2="497.90" stroke="#fff" stroke-width="0.6"/>
<line x1="45.00" y1="501.50" x2="45.00" y2="502.60" stroke="#fff" stroke-width="0.6"/>
<line x1="60.50" y1="496.80" x2="60.50" y2="497.90" stroke="#fff" stroke-width="0.6"/>
<line x1="60.50" y1="501.50" x2="60.50" y2="502.60" stroke="#fff" stroke-width="0.6"/>
<line x1="75.80" y1="496.80" x2="75.80" y2="497.90" stroke="#fff" stroke-width="0.6"/>
<line x1="75.80" y1="501.50" x2="75.80" y2="502.60" stroke="#fff" stroke-width="0.6"/>
<text x="45.00" y="510.20" font-size="8.8" fill="#231f20" text-anchor="middle" dominant-baseline="central" textLength="4.45" lengthAdjust="spacingAndGlyphs" stroke="#231f20" stroke-width="0.12">0</text>
<text x="60.50" y="510.20" font-size="8.8" fill="#231f20" text-anchor="middle" dominant-baseline="central" textLength="11.12" lengthAdjust="spacingAndGlyphs" stroke="#231f20" stroke-width="0.12">0.5</text>
<text x="75.80" y="510.20" font-size="8.8" fill="#231f20" text-anchor="middle" dominant-baseline="central" textLength="4.45" lengthAdjust="spacingAndGlyphs" stroke="#231f20" stroke-width="0.12">1</text>
<text x="128.00" y="279.10" font-size="12.5" fill="#000" text-anchor="start" font-weight="bold">D</text>
<line x1="169.10" y1="397.60" x2="306.00" y2="397.60" stroke="#ececec" stroke-width="0.6"/>
<line x1="169.10" y1="375.75" x2="306.00" y2="375.75" stroke="#ececec" stroke-width="0.6"/>
<line x1="169.10" y1="353.90" x2="306.00" y2="353.90" stroke="#ececec" stroke-width="0.6"/>
<line x1="169.10" y1="332.05" x2="306.00" y2="332.05" stroke="#ececec" stroke-width="0.6"/>
<line x1="169.10" y1="310.20" x2="306.00" y2="310.20" stroke="#ececec" stroke-width="0.6"/>
<line x1="169.10" y1="288.35" x2="306.00" y2="288.35" stroke="#ececec" stroke-width="0.6"/>
<line x1="171.50" y1="285.50" x2="171.50" y2="405.80" stroke="#ececec" stroke-width="0.6"/>
<line x1="214.70" y1="285.50" x2="214.70" y2="405.80" stroke="#ececec" stroke-width="0.6"/>
<line x1="257.90" y1="285.50" x2="257.90" y2="405.80" stroke="#ececec" stroke-width="0.6"/>
<line x1="301.10" y1="285.50" x2="301.10" y2="405.80" stroke="#ececec" stroke-width="0.6"/>
<circle cx="193.60" cy="293.30" r="1.60" fill="#efe266" fill-opacity="0.85"/>
<circle cx="205.30" cy="290.90" r="1.30" fill="#efe266" fill-opacity="0.85"/>
<circle cx="199.50" cy="296.70" r="1.40" fill="#efe266" fill-opacity="0.85"/>
<circle cx="193.00" cy="307.00" r="1.40" fill="#efe266" fill-opacity="0.85"/>
<circle cx="200.30" cy="320.00" r="1.60" fill="#efe266" fill-opacity="0.85"/>
<circle cx="207.70" cy="327.60" r="1.30" fill="#efe266" fill-opacity="0.85"/>
<circle cx="196.00" cy="337.00" r="1.50" fill="#efe266" fill-opacity="0.85"/>
<circle cx="222.40" cy="342.30" r="1.50" fill="#efe266" fill-opacity="0.85"/>
<circle cx="197.70" cy="346.80" r="1.90" fill="#efe266" fill-opacity="0.85"/>
<circle cx="199.80" cy="345.20" r="1.50" fill="#efe266" fill-opacity="0.85"/>
<circle cx="201.70" cy="344.80" r="1.80" fill="#efe266" fill-opacity="0.85"/>
<circle cx="203.80" cy="343.20" r="1.40" fill="#efe266" fill-opacity="0.85"/>
<circle cx="205.60" cy="342.90" r="1.30" fill="#efe266" fill-opacity="0.85"/>
<circle cx="198.50" cy="349.00" r="1.50" fill="#efe266" fill-opacity="0.85"/>
<circle cx="200.50" cy="347.50" r="1.20" fill="#efe266" fill-opacity="0.85"/>
<circle cx="195.50" cy="348.00" r="1.20" fill="#efe266" fill-opacity="0.85"/>
<circle cx="200.20" cy="353.20" r="1.50" fill="#efe266" fill-opacity="0.85"/>
<circle cx="190.20" cy="354.00" r="1.50" fill="#efe266" fill-opacity="0.85"/>
<circle cx="185.00" cy="357.00" r="1.30" fill="#efe266" fill-opacity="0.85"/>
<circle cx="192.00" cy="359.50" r="1.50" fill="#efe266" fill-opacity="0.85"/>
<circle cx="177.00" cy="362.00" r="1.20" fill="#efe266" fill-opacity="0.85"/>
<circle cx="176.00" cy="369.80" r="1.20" fill="#efe266" fill-opacity="0.85"/>
<circle cx="178.00" cy="387.20" r="1.20" fill="#efe266" fill-opacity="0.85"/>
<circle cx="196.40" cy="353.60" r="1.20" fill="#efe266" fill-opacity="0.85"/>
<circle cx="194.80" cy="336.00" r="1.30" fill="#efe266" fill-opacity="0.85"/>
<circle cx="198.40" cy="326.00" r="1.30" fill="#efe266" fill-opacity="0.85"/>
<circle cx="202.00" cy="332.00" r="1.20" fill="#efe266" fill-opacity="0.85"/>
<circle cx="195.00" cy="304.00" r="1.20" fill="#efe266" fill-opacity="0.85"/>
<circle cx="190.00" cy="298.00" r="1.20" fill="#efe266" fill-opacity="0.85"/>
<circle cx="203.30" cy="349.50" r="1.30" fill="#efe266" fill-opacity="0.85"/>
<circle cx="208.00" cy="352.00" r="1.20" fill="#efe266" fill-opacity="0.85"/>
<circle cx="181.50" cy="360.50" r="1.20" fill="#efe266" fill-opacity="0.85"/>
<circle cx="199.00" cy="365.00" r="1.20" fill="#efe266" fill-opacity="0.85"/>
<circle cx="183.00" cy="378.50" r="1.10" fill="#efe266" fill-opacity="0.85"/>
<circle cx="187.10" cy="356.10" r="2.60" fill="#f5a000" stroke="#e89400" stroke-width="0.4" fill-opacity="0.95"/>
<circle cx="192.60" cy="363.60" r="2.90" fill="#f5a000" stroke="#e89400" stroke-width="0.4" fill-opacity="0.95"/>
<circle cx="183.60" cy="370.40" r="3.60" fill="#f5a000" stroke="#e89400" stroke-width="0.4" fill-opacity="0.95"/>
<circle cx="189.20" cy="369.20" r="3.60" fill="#f5a000" stroke="#e89400" stroke-width="0.4" fill-opacity="0.95"/>
<circle cx="194.80" cy="370.40" r="3.60" fill="#f5a000" stroke="#e89400" stroke-width="0.4" fill-opacity="0.95"/>
<circle cx="199.20" cy="371.00" r="3.10" fill="#f5a000" stroke="#e89400" stroke-width="0.4" fill-opacity="0.95"/>
<circle cx="189.80" cy="374.20" r="3.10" fill="#f5a000" stroke="#e89400" stroke-width="0.4" fill-opacity="0.95"/>
<circle cx="191.70" cy="366.10" r="3.10" fill="#f5a000" stroke="#e89400" stroke-width="0.4" fill-opacity="0.95"/>
<circle cx="184.30" cy="382.90" r="3.60" fill="#f5a000" stroke="#e89400" stroke-width="0.4" fill-opacity="0.95"/>
<circle cx="188.60" cy="384.70" r="4.00" fill="#f5a000" stroke="#e89400" stroke-width="0.4" fill-opacity="0.95"/>
<circle cx="194.80" cy="384.10" r="3.60" fill="#f5a000" stroke="#e89400" stroke-width="0.4" fill-opacity="0.95"/>
<circle cx="197.90" cy="386.60" r="3.10" fill="#f5a000" stroke="#e89400" stroke-width="0.4" fill-opacity="0.95"/>
<circle cx="186.70" cy="389.70" r="4.00" fill="#f5a000" stroke="#e89400" stroke-width="0.4" fill-opacity="0.95"/>
<circle cx="189.80" cy="389.10" r="3.10" fill="#f5a000" stroke="#e89400" stroke-width="0.4" fill-opacity="0.95"/>
<circle cx="186.10" cy="392.80" r="3.10" fill="#f5a000" stroke="#e89400" stroke-width="0.4" fill-opacity="0.95"/>
<circle cx="189.80" cy="379.80" r="2.60" fill="#f5a000" stroke="#e89400" stroke-width="0.4" fill-opacity="0.95"/>
<circle cx="183.00" cy="400.60" r="3.20" fill="#f5a000" stroke="#e89400" stroke-width="0.4" fill-opacity="0.95"/>
<circle cx="181.50" cy="375.00" r="2.60" fill="#f5a000" stroke="#e89400" stroke-width="0.4" fill-opacity="0.95"/>
<circle cx="196.50" cy="375.50" r="2.40" fill="#f5a000" stroke="#e89400" stroke-width="0.4" fill-opacity="0.95"/>
<circle cx="192.00" cy="378.50" r="2.40" fill="#f5a000" stroke="#e89400" stroke-width="0.4" fill-opacity="0.95"/>
<circle cx="182.50" cy="387.00" r="2.80" fill="#f5a000" stroke="#e89400" stroke-width="0.4" fill-opacity="0.95"/>
<circle cx="193.00" cy="391.50" r="2.80" fill="#f5a000" stroke="#e89400" stroke-width="0.4" fill-opacity="0.95"/>
<circle cx="187.00" cy="395.50" r="2.80" fill="#f5a000" stroke="#e89400" stroke-width="0.4" fill-opacity="0.95"/>
<circle cx="200.00" cy="383.00" r="2.60" fill="#f5a000" stroke="#e89400" stroke-width="0.4" fill-opacity="0.95"/>
<circle cx="201.00" cy="300.50" r="2.30" fill="#1ea9d9" stroke="#1591c4" stroke-width="0.5" fill-opacity="0.95"/>
<circle cx="196.50" cy="311.00" r="2.60" fill="#1ea9d9" stroke="#1591c4" stroke-width="0.5" fill-opacity="0.95"/>
<circle cx="193.00" cy="313.50" r="2.60" fill="#1ea9d9" stroke="#1591c4" stroke-width="0.5" fill-opacity="0.95"/>
<circle cx="197.60" cy="314.80" r="2.60" fill="#1ea9d9" stroke="#1591c4" stroke-width="0.5" fill-opacity="0.95"/>
<circle cx="191.00" cy="317.50" r="2.60" fill="#1ea9d9" stroke="#1591c4" stroke-width="0.5" fill-opacity="0.95"/>
<circle cx="195.00" cy="318.60" r="2.60" fill="#1ea9d9" stroke="#1591c4" stroke-width="0.5" fill-opacity="0.95"/>
<circle cx="192.40" cy="321.40" r="2.60" fill="#1ea9d9" stroke="#1591c4" stroke-width="0.5" fill-opacity="0.95"/>
<circle cx="196.50" cy="323.00" r="2.10" fill="#1ea9d9" stroke="#1591c4" stroke-width="0.5" fill-opacity="0.95"/>
<circle cx="182.50" cy="324.70" r="2.60" fill="#1ea9d9" stroke="#1591c4" stroke-width="0.5" fill-opacity="0.95"/>
<circle cx="186.70" cy="325.50" r="2.60" fill="#1ea9d9" stroke="#1591c4" stroke-width="0.5" fill-opacity="0.95"/>
<circle cx="190.50" cy="326.70" r="2.60" fill="#1ea9d9" stroke="#1591c4" stroke-width="0.5" fill-opacity="0.95"/>
<circle cx="184.00" cy="328.60" r="2.60" fill="#1ea9d9" stroke="#1591c4" stroke-width="0.5" fill-opacity="0.95"/>
<circle cx="188.60" cy="330.50" r="2.60" fill="#1ea9d9" stroke="#1591c4" stroke-width="0.5" fill-opacity="0.95"/>
<circle cx="193.00" cy="330.50" r="2.60" fill="#1ea9d9" stroke="#1591c4" stroke-width="0.5" fill-opacity="0.95"/>
<circle cx="183.60" cy="332.40" r="2.60" fill="#1ea9d9" stroke="#1591c4" stroke-width="0.5" fill-opacity="0.95"/>
<circle cx="187.40" cy="334.20" r="2.60" fill="#1ea9d9" stroke="#1591c4" stroke-width="0.5" fill-opacity="0.95"/>
<circle cx="191.80" cy="334.20" r="2.60" fill="#1ea9d9" stroke="#1591c4" stroke-width="0.5" fill-opacity="0.95"/>
<circle cx="185.00" cy="337.50" r="2.10" fill="#1ea9d9" stroke="#1591c4" stroke-width="0.5" fill-opacity="0.95"/>
<circle cx="188.60" cy="338.70" r="2.10" fill="#1ea9d9" stroke="#1591c4" stroke-width="0.5" fill-opacity="0.95"/>
<circle cx="186.00" cy="341.70" r="2.10" fill="#1ea9d9" stroke="#1591c4" stroke-width="0.5" fill-opacity="0.95"/>
<circle cx="188.00" cy="344.50" r="2.00" fill="#1ea9d9" stroke="#1591c4" stroke-width="0.5" fill-opacity="0.95"/>
<circle cx="202.30" cy="334.00" r="2.50" fill="#1ea9d9" stroke="#1591c4" stroke-width="0.5" fill-opacity="0.95"/>
<circle cx="198.80" cy="310.00" r="2.20" fill="#1ea9d9" stroke="#1591c4" stroke-width="0.5" fill-opacity="0.95"/>
<circle cx="194.00" cy="326.00" r="2.20" fill="#1ea9d9" stroke="#1591c4" stroke-width="0.5" fill-opacity="0.95"/>
<circle cx="202.30" cy="334.00" r="1.20" fill="#eee87a" fill-opacity="0.75"/>
<circle cx="186.20" cy="330.50" r="1.30" fill="#eee87a" fill-opacity="0.75"/>
<circle cx="185.50" cy="334.00" r="1.10" fill="#eee87a" fill-opacity="0.75"/>
<circle cx="197.60" cy="315.50" r="1.20" fill="#eee87a" fill-opacity="0.75"/>
<circle cx="200.40" cy="319.80" r="1.30" fill="#eee87a" fill-opacity="0.75"/>
<circle cx="196.90" cy="323.40" r="1.20" fill="#eee87a" fill-opacity="0.75"/>
<circle cx="194.70" cy="331.20" r="1.30" fill="#eee87a" fill-opacity="0.75"/>
<circle cx="190.50" cy="342.50" r="1.00" fill="#eee87a" fill-opacity="0.75"/>
<circle cx="196.90" cy="336.80" r="1.30" fill="#eee87a" fill-opacity="0.75"/>
<circle cx="192.00" cy="327.00" r="1.00" fill="#eee87a" fill-opacity="0.75"/>
<circle cx="201.00" cy="300.50" r="2.00" fill="#7fcbe8" stroke="#1a8cc8" stroke-width="0.9"/>
<circle cx="207.50" cy="357.00" r="1.50" fill="#1a86be" stroke="#0f6396" stroke-width="0.5"/>
<circle cx="211.00" cy="358.00" r="2.00" fill="#1a86be" stroke="#0f6396" stroke-width="0.5"/>
<circle cx="213.50" cy="358.50" r="1.50" fill="#1a86be" stroke="#0f6396" stroke-width="0.5"/>
<circle cx="210.00" cy="362.00" r="2.00" fill="#1a86be" stroke="#0f6396" stroke-width="0.5"/>
<circle cx="213.50" cy="362.50" r="2.00" fill="#1a86be" stroke="#0f6396" stroke-width="0.5"/>
<circle cx="208.00" cy="366.00" r="2.00" fill="#1a86be" stroke="#0f6396" stroke-width="0.5"/>
<circle cx="211.00" cy="366.00" r="2.50" fill="#1a86be" stroke="#0f6396" stroke-width="0.5"/>
<circle cx="214.00" cy="367.00" r="2.00" fill="#1a86be" stroke="#0f6396" stroke-width="0.5"/>
<circle cx="206.50" cy="367.50" r="2.00" fill="#1a86be" stroke="#0f6396" stroke-width="0.5"/>
<circle cx="210.00" cy="369.50" r="2.00" fill="#1a86be" stroke="#0f6396" stroke-width="0.5"/>
<circle cx="213.50" cy="371.00" r="2.00" fill="#1a86be" stroke="#0f6396" stroke-width="0.5"/>
<circle cx="217.50" cy="370.00" r="1.50" fill="#1a86be" stroke="#0f6396" stroke-width="0.5"/>
<circle cx="231.50" cy="353.50" r="1.50" fill="#1a86be" stroke="#0f6396" stroke-width="0.5"/>
<circle cx="235.00" cy="359.00" r="2.00" fill="#1a86be" stroke="#0f6396" stroke-width="0.5"/>
<circle cx="231.00" cy="363.50" r="1.50" fill="#1a86be" stroke="#0f6396" stroke-width="0.5"/>
<circle cx="234.00" cy="365.00" r="2.00" fill="#1a86be" stroke="#0f6396" stroke-width="0.5"/>
<circle cx="237.50" cy="367.00" r="2.00" fill="#1a86be" stroke="#0f6396" stroke-width="0.5"/>
<circle cx="240.00" cy="366.00" r="1.50" fill="#1a86be" stroke="#0f6396" stroke-width="0.5"/>
<circle cx="248.00" cy="365.50" r="2.00" fill="#1a86be" stroke="#0f6396" stroke-width="0.5"/>
<circle cx="225.50" cy="369.50" r="2.00" fill="#1a86be" stroke="#0f6396" stroke-width="0.5"/>
<circle cx="235.50" cy="371.00" r="2.00" fill="#1a86be" stroke="#0f6396" stroke-width="0.5"/>
<circle cx="242.00" cy="370.50" r="2.50" fill="#1a86be" stroke="#0f6396" stroke-width="0.5"/>
<circle cx="237.50" cy="372.50" r="1.50" fill="#1a86be" stroke="#0f6396" stroke-width="0.5"/>
<circle cx="234.00" cy="377.00" r="2.00" fill="#1a86be" stroke="#0f6396" stroke-width="0.5"/>
<circle cx="238.00" cy="380.50" r="1.50" fill="#1a86be" stroke="#0f6396" stroke-width="0.5"/>
<circle cx="236.00" cy="382.50" r="1.50" fill="#1a86be" stroke="#0f6396" stroke-width="0.5"/>
<circle cx="229.00" cy="381.00" r="1.00" fill="#1a86be" stroke="#0f6396" stroke-width="0.5"/>
<circle cx="243.00" cy="381.00" r="1.00" fill="#1a86be" stroke="#0f6396" stroke-width="0.5"/>
<circle cx="241.50" cy="385.00" r="2.00" fill="#1a86be" stroke="#0f6396" stroke-width="0.5"/>
<circle cx="250.00" cy="381.00" r="1.50" fill="#1a86be" stroke="#0f6396" stroke-width="0.5"/>
<circle cx="251.00" cy="384.00" r="1.00" fill="#1a86be" stroke="#0f6396" stroke-width="0.5"/>
<circle cx="252.50" cy="379.00" r="1.00" fill="#1a86be" stroke="#0f6396" stroke-width="0.5"/>
<circle cx="254.00" cy="381.00" r="1.00" fill="#1a86be" stroke="#0f6396" stroke-width="0.5"/>
<circle cx="224.00" cy="383.50" r="2.50" fill="#1a86be" stroke="#0f6396" stroke-width="0.5"/>
<circle cx="219.50" cy="385.50" r="2.00" fill="#1a86be" stroke="#0f6396" stroke-width="0.5"/>
<circle cx="236.00" cy="386.50" r="1.00" fill="#1a86be" stroke="#0f6396" stroke-width="0.5"/>
<circle cx="209.00" cy="360.00" r="1.50" fill="#1a86be" stroke="#0f6396" stroke-width="0.5"/>
<circle cx="212.00" cy="364.00" r="1.80" fill="#1a86be" stroke="#0f6396" stroke-width="0.5"/>
<circle cx="260.60" cy="308.70" r="1.50" fill="#0e9468" stroke="#0a6e4e" stroke-width="0.6"/>
<circle cx="262.70" cy="311.50" r="2.00" fill="#0e9468" stroke="#0a6e4e" stroke-width="0.6"/>
<circle cx="258.80" cy="315.50" r="1.50" fill="#0e9468" stroke="#0a6e4e" stroke-width="0.6"/>
<circle cx="268.90" cy="313.30" r="2.00" fill="#0e9468" stroke="#0a6e4e" stroke-width="0.6"/>
<circle cx="275.00" cy="315.20" r="2.50" fill="#0e9468" stroke="#0a6e4e" stroke-width="0.6"/>
<circle cx="279.50" cy="315.00" r="2.50" fill="#0e9468" stroke="#0a6e4e" stroke-width="0.6"/>
<circle cx="283.00" cy="316.50" r="2.50" fill="#0e9468" stroke="#0a6e4e" stroke-width="0.6"/>
<circle cx="280.50" cy="321.50" r="2.50" fill="#0e9468" stroke="#0a6e4e" stroke-width="0.6"/>
<circle cx="264.00" cy="321.00" r="1.50" fill="#0e9468" stroke="#0a6e4e" stroke-width="0.6"/>
<circle cx="265.50" cy="326.00" r="1.50" fill="#0e9468" stroke="#0a6e4e" stroke-width="0.6"/>
<circle cx="260.80" cy="331.00" r="2.00" fill="#0e9468" stroke="#0a6e4e" stroke-width="0.6"/>
<circle cx="261.50" cy="334.00" r="2.00" fill="#0e9468" stroke="#0a6e4e" stroke-width="0.6"/>
<circle cx="280.50" cy="328.50" r="2.50" fill="#0e9468" stroke="#0a6e4e" stroke-width="0.6"/>
<circle cx="282.00" cy="333.00" r="2.50" fill="#0e9468" stroke="#0a6e4e" stroke-width="0.6"/>
<circle cx="284.50" cy="335.00" r="2.00" fill="#0e9468" stroke="#0a6e4e" stroke-width="0.6"/>
<circle cx="260.50" cy="338.70" r="1.50" fill="#0e9468" stroke="#0a6e4e" stroke-width="0.6"/>
<circle cx="270.50" cy="342.30" r="2.50" fill="#0e9468" stroke="#0a6e4e" stroke-width="0.6"/>
<circle cx="284.50" cy="340.50" r="2.50" fill="#0e9468" stroke="#0a6e4e" stroke-width="0.6"/>
<circle cx="285.00" cy="344.00" r="2.50" fill="#0e9468" stroke="#0a6e4e" stroke-width="0.6"/>
<circle cx="260.40" cy="347.30" r="1.50" fill="#0e9468" stroke="#0a6e4e" stroke-width="0.6"/>
<circle cx="265.50" cy="347.30" r="1.50" fill="#0e9468" stroke="#0a6e4e" stroke-width="0.6"/>
<circle cx="265.50" cy="350.50" r="1.50" fill="#0e9468" stroke="#0a6e4e" stroke-width="0.6"/>
<circle cx="281.50" cy="350.00" r="2.50" fill="#0e9468" stroke="#0a6e4e" stroke-width="0.6"/>
<circle cx="282.00" cy="351.00" r="2.00" fill="#0e9468" stroke="#0a6e4e" stroke-width="0.6"/>
<circle cx="283.00" cy="355.00" r="2.00" fill="#0e9468" stroke="#0a6e4e" stroke-width="0.6"/>
<circle cx="277.20" cy="359.50" r="2.00" fill="#0e9468" stroke="#0a6e4e" stroke-width="0.6"/>
<circle cx="284.00" cy="360.00" r="2.50" fill="#0e9468" stroke="#0a6e4e" stroke-width="0.6"/>
<circle cx="290.00" cy="359.00" r="3.00" fill="#0e9468" stroke="#0a6e4e" stroke-width="0.6"/>
<circle cx="284.50" cy="362.00" r="2.50" fill="#0e9468" stroke="#0a6e4e" stroke-width="0.6"/>
<circle cx="300.00" cy="358.00" r="2.00" fill="#0e9468" stroke="#0a6e4e" stroke-width="0.6"/>
<circle cx="265.60" cy="360.60" r="1.50" fill="#0e9468" stroke="#0a6e4e" stroke-width="0.6"/>
<circle cx="275.80" cy="368.50" r="3.00" fill="#0e9468" stroke="#0a6e4e" stroke-width="0.6"/>
<circle cx="265.00" cy="374.00" r="1.50" fill="#0e9468" stroke="#0a6e4e" stroke-width="0.6"/>
<circle cx="270.00" cy="376.00" r="3.50" fill="#0e9468" stroke="#0a6e4e" stroke-width="0.6"/>
<circle cx="270.00" cy="379.00" r="3.50" fill="#0e9468" stroke="#0a6e4e" stroke-width="0.6"/>
<circle cx="277.50" cy="382.50" r="3.00" fill="#0e9468" stroke="#0a6e4e" stroke-width="0.6"/>
<circle cx="291.00" cy="378.50" r="2.00" fill="#0e9468" stroke="#0a6e4e" stroke-width="0.6"/>
<circle cx="289.50" cy="382.50" r="2.50" fill="#0e9468" stroke="#0a6e4e" stroke-width="0.6"/>
<circle cx="297.00" cy="374.50" r="2.00" fill="#0e9468" stroke="#0a6e4e" stroke-width="0.6"/>
<circle cx="299.00" cy="377.50" r="2.50" fill="#0e9468" stroke="#0a6e4e" stroke-width="0.6"/>
<circle cx="300.00" cy="384.00" r="2.50" fill="#0e9468" stroke="#0a6e4e" stroke-width="0.6"/>
<circle cx="281.00" cy="318.50" r="2.30" fill="#0e9468" stroke="#0a6e4e" stroke-width="0.6"/>
<circle cx="281.50" cy="325.00" r="2.30" fill="#0e9468" stroke="#0a6e4e" stroke-width="0.6"/>
<circle cx="283.00" cy="347.00" r="2.30" fill="#0e9468" stroke="#0a6e4e" stroke-width="0.6"/>
<line x1="169.10" y1="285.50" x2="169.10" y2="406.30" stroke="#231f20" stroke-width="1.1"/>
<line x1="168.60" y1="405.80" x2="306.00" y2="405.80" stroke="#231f20" stroke-width="1.1"/>
<line x1="165.90" y1="397.60" x2="169.10" y2="397.60" stroke="#231f20" stroke-width="0.9"/>
<text x="162.00" y="397.90" font-size="9.02" fill="#231f20" text-anchor="end" dominant-baseline="central" textLength="8.80" lengthAdjust="spacingAndGlyphs" stroke="#231f20" stroke-width="0.12">−2</text>
<line x1="165.90" y1="375.75" x2="169.10" y2="375.75" stroke="#231f20" stroke-width="0.9"/>
<text x="162.00" y="376.05" font-size="9.02" fill="#231f20" text-anchor="end" dominant-baseline="central" textLength="8.80" lengthAdjust="spacingAndGlyphs" stroke="#231f20" stroke-width="0.12">−1</text>
<line x1="165.90" y1="353.90" x2="169.10" y2="353.90" stroke="#231f20" stroke-width="0.9"/>
<text x="162.00" y="354.20" font-size="9.02" fill="#231f20" text-anchor="end" dominant-baseline="central" textLength="4.30" lengthAdjust="spacingAndGlyphs" stroke="#231f20" stroke-width="0.12">0</text>
<line x1="165.90" y1="332.05" x2="169.10" y2="332.05" stroke="#231f20" stroke-width="0.9"/>
<text x="162.00" y="332.35" font-size="9.02" fill="#231f20" text-anchor="end" dominant-baseline="central" textLength="4.30" lengthAdjust="spacingAndGlyphs" stroke="#231f20" stroke-width="0.12">1</text>
<line x1="165.90" y1="310.20" x2="169.10" y2="310.20" stroke="#231f20" stroke-width="0.9"/>
<text x="162.00" y="310.50" font-size="9.02" fill="#231f20" text-anchor="end" dominant-baseline="central" textLength="4.30" lengthAdjust="spacingAndGlyphs" stroke="#231f20" stroke-width="0.12">2</text>
<line x1="165.90" y1="288.35" x2="169.10" y2="288.35" stroke="#231f20" stroke-width="0.9"/>
<text x="162.00" y="288.65" font-size="9.02" fill="#231f20" text-anchor="end" dominant-baseline="central" textLength="4.30" lengthAdjust="spacingAndGlyphs" stroke="#231f20" stroke-width="0.12">3</text>
<line x1="171.50" y1="405.80" x2="171.50" y2="409.00" stroke="#231f20" stroke-width="0.9"/>
<text x="171.50" y="416.50" font-size="9.02" fill="#231f20" text-anchor="middle" dominant-baseline="central" textLength="8.80" lengthAdjust="spacingAndGlyphs" stroke="#231f20" stroke-width="0.12">−2</text>
<line x1="214.70" y1="405.80" x2="214.70" y2="409.00" stroke="#231f20" stroke-width="0.9"/>
<text x="214.70" y="416.50" font-size="9.02" fill="#231f20" text-anchor="middle" dominant-baseline="central" textLength="4.30" lengthAdjust="spacingAndGlyphs" stroke="#231f20" stroke-width="0.12">0</text>
<line x1="257.90" y1="405.80" x2="257.90" y2="409.00" stroke="#231f20" stroke-width="0.9"/>
<text x="257.90" y="416.50" font-size="9.02" fill="#231f20" text-anchor="middle" dominant-baseline="central" textLength="4.30" lengthAdjust="spacingAndGlyphs" stroke="#231f20" stroke-width="0.12">2</text>
<line x1="301.10" y1="405.80" x2="301.10" y2="409.00" stroke="#231f20" stroke-width="0.9"/>
<text x="301.10" y="416.50" font-size="9.02" fill="#231f20" text-anchor="middle" dominant-baseline="central" textLength="4.30" lengthAdjust="spacingAndGlyphs" stroke="#231f20" stroke-width="0.12">4</text>
<text x="237.00" y="429.80" font-size="9.02" fill="#231f20" text-anchor="middle" dominant-baseline="central" textLength="38.90" lengthAdjust="spacingAndGlyphs" stroke="#231f20" stroke-width="0.12">MDS dim. 1</text>
<text x="145.00" y="345.70" font-size="9.02" fill="#231f20" text-anchor="middle" dominant-baseline="central" transform="rotate(-90 145.00 345.70)" textLength="40.40" lengthAdjust="spacingAndGlyphs" stroke="#231f20" stroke-width="0.12">MDS dim. 2</text>
<text x="316.70" y="295.30" font-size="8.13" fill="#231f20" text-anchor="start" textLength="35.60" lengthAdjust="spacingAndGlyphs" stroke="#231f20" stroke-width="0.12">cluster_id</text>
<circle cx="319.60" cy="302.60" r="2.40" fill="#e8a030" fill-opacity="0.9"/>
<text x="325.90" y="302.90" font-size="6.67" fill="#231f20" text-anchor="start" dominant-baseline="central" textLength="18.54" lengthAdjust="spacingAndGlyphs" stroke="#231f20" stroke-width="0.12">Naive</text>
<circle cx="319.60" cy="309.15" r="2.40" fill="#2ab0d4" fill-opacity="0.9"/>
<text x="325.90" y="309.45" font-size="6.67" fill="#231f20" text-anchor="start" dominant-baseline="central" textLength="28.87" lengthAdjust="spacingAndGlyphs" stroke="#231f20" stroke-width="0.12">Early Tm</text>
<circle cx="319.60" cy="315.70" r="2.40" fill="#10925e" fill-opacity="0.9"/>
<text x="325.90" y="316.00" font-size="6.67" fill="#231f20" text-anchor="start" dominant-baseline="central" textLength="35.06" lengthAdjust="spacingAndGlyphs" stroke="#231f20" stroke-width="0.12">Term/SenL</text>
<circle cx="319.60" cy="322.25" r="2.40" fill="#1a70c0" fill-opacity="0.9"/>
<text x="325.90" y="322.55" font-size="6.67" fill="#231f20" text-anchor="start" dominant-baseline="central" textLength="8.06" lengthAdjust="spacingAndGlyphs" stroke="#231f20" stroke-width="0.12">Int</text>
<circle cx="319.60" cy="328.80" r="2.40" fill="#e2e256" fill-opacity="0.9"/>
<text x="325.90" y="329.10" font-size="6.67" fill="#231f20" text-anchor="start" dominant-baseline="central" textLength="10.48" lengthAdjust="spacingAndGlyphs" stroke="#231f20" stroke-width="0.12">Act</text>
<text x="316.70" y="346.50" font-size="8.3" fill="#231f20" text-anchor="start" stroke="#231f20" stroke-width="0.12">n_cells</text>
<circle cx="322.70" cy="353.60" r="1.20" fill="#555555" stroke="#333" stroke-width="0.5"/>
<text x="329.80" y="353.90" font-size="8.36" fill="#231f20" text-anchor="start" dominant-baseline="central" textLength="4.23" lengthAdjust="spacingAndGlyphs" stroke="#231f20" stroke-width="0.12">0</text>
<circle cx="322.70" cy="360.60" r="2.30" fill="#555555" stroke="#333" stroke-width="0.5"/>
<text x="329.80" y="360.90" font-size="8.36" fill="#231f20" text-anchor="start" dominant-baseline="central" textLength="12.68" lengthAdjust="spacingAndGlyphs" stroke="#231f20" stroke-width="0.12">500</text>
<circle cx="322.70" cy="367.40" r="2.90" fill="#555555" stroke="#333" stroke-width="0.5"/>
<text x="329.80" y="367.70" font-size="8.36" fill="#231f20" text-anchor="start" dominant-baseline="central" textLength="16.91" lengthAdjust="spacingAndGlyphs" stroke="#231f20" stroke-width="0.12">1000</text>
<circle cx="322.70" cy="376.00" r="3.40" fill="#555555" stroke="#333" stroke-width="0.5"/>
<text x="329.80" y="376.30" font-size="8.36" fill="#231f20" text-anchor="start" dominant-baseline="central" textLength="16.91" lengthAdjust="spacingAndGlyphs" stroke="#231f20" stroke-width="0.12">1500</text>
<circle cx="322.70" cy="385.10" r="4.20" fill="#555555" stroke="#333" stroke-width="0.5"/>
<text x="329.80" y="385.40" font-size="8.36" fill="#231f20" text-anchor="start" dominant-baseline="central" textLength="16.91" lengthAdjust="spacingAndGlyphs" stroke="#231f20" stroke-width="0.12">2000</text>
<circle cx="322.70" cy="396.20" r="4.80" fill="#555555" stroke="#333" stroke-width="0.5"/>
<text x="329.80" y="396.50" font-size="8.36" fill="#231f20" text-anchor="start" dominant-baseline="central" textLength="16.91" lengthAdjust="spacingAndGlyphs" stroke="#231f20" stroke-width="0.12">2500</text>
<text x="370.50" y="279.10" font-size="12.5" fill="#000" text-anchor="start" font-weight="bold">E</text>
<line x1="409.40" y1="375.00" x2="512.00" y2="375.00" stroke="#f0f0f0" stroke-width="0.6"/>
<line x1="409.40" y1="350.30" x2="512.00" y2="350.30" stroke="#f0f0f0" stroke-width="0.6"/>
<line x1="409.40" y1="325.60" x2="512.00" y2="325.60" stroke="#f0f0f0" stroke-width="0.6"/>
<line x1="409.40" y1="300.90" x2="512.00" y2="300.90" stroke="#f0f0f0" stroke-width="0.6"/>
<line x1="409.40" y1="362.65" x2="512.00" y2="362.65" stroke="#f7f7f7" stroke-width="0.5"/>
<line x1="409.40" y1="337.95" x2="512.00" y2="337.95" stroke="#f7f7f7" stroke-width="0.5"/>
<line x1="409.40" y1="313.25" x2="512.00" y2="313.25" stroke="#f7f7f7" stroke-width="0.5"/>
<line x1="421.20" y1="299.00" x2="421.20" y2="376.40" stroke="#f0f0f0" stroke-width="0.6"/>
<line x1="440.80" y1="299.00" x2="440.80" y2="376.40" stroke="#f0f0f0" stroke-width="0.6"/>
<line x1="460.40" y1="299.00" x2="460.40" y2="376.40" stroke="#f0f0f0" stroke-width="0.6"/>
<line x1="480.00" y1="299.00" x2="480.00" y2="376.40" stroke="#f0f0f0" stroke-width="0.6"/>
<line x1="499.80" y1="299.00" x2="499.80" y2="376.40" stroke="#f0f0f0" stroke-width="0.6"/>
<polygon points="420.70,359.40 418.20,360.50 416.90,362.50 416.20,364.50 413.70,365.50 412.00,366.40 413.20,367.30 417.20,368.30 420.20,368.80 422.20,368.80 425.20,368.30 429.20,367.30 430.40,366.40 428.70,365.50 426.20,364.50 425.50,362.50 424.20,360.50 421.70,359.40" fill="#d89a1c" stroke="#d89a1c" stroke-width="0.4"/>
<rect x="417.56" y="361.94" width="1.0" height="1.0" fill="#3a2000" fill-opacity="0.8"/>
<rect x="416.85" y="365.02" width="1.0" height="1.0" fill="#3a2000" fill-opacity="0.8"/>
<rect x="419.49" y="363.94" width="1.0" height="1.0" fill="#3a2000" fill-opacity="0.8"/>
<rect x="420.77" y="359.45" width="1.0" height="1.0" fill="#3a2000" fill-opacity="0.8"/>
<rect x="420.10" y="359.25" width="1.0" height="1.0" fill="#3a2000" fill-opacity="0.8"/>
<rect x="417.02" y="359.56" width="1.0" height="1.0" fill="#3a2000" fill-opacity="0.8"/>
<rect x="423.64" y="362.89" width="1.0" height="1.0" fill="#3a2000" fill-opacity="0.8"/>
<rect x="418.21" y="360.06" width="1.0" height="1.0" fill="#3a2000" fill-opacity="0.8"/>
<rect x="424.73" y="364.80" width="1.0" height="1.0" fill="#3a2000" fill-opacity="0.8"/>
<rect x="419.77" y="364.32" width="1.0" height="1.0" fill="#3a2000" fill-opacity="0.8"/>
<rect x="416.62" y="368.08" width="1.0" height="1.0" fill="#3a2000" fill-opacity="0.8"/>
<rect x="418.81" y="366.97" width="1.0" height="1.0" fill="#3a2000" fill-opacity="0.8"/>
<rect x="417.26" y="360.26" width="1.0" height="1.0" fill="#3a2000" fill-opacity="0.8"/>
<rect x="423.55" y="361.80" width="1.0" height="1.0" fill="#3a2000" fill-opacity="0.8"/>
<rect x="421.43" y="360.60" width="1.0" height="1.0" fill="#3a2000" fill-opacity="0.8"/>
<rect x="419.55" y="364.91" width="1.0" height="1.0" fill="#3a2000" fill-opacity="0.8"/>
<rect x="416.77" y="364.05" width="1.0" height="1.0" fill="#3a2000" fill-opacity="0.8"/>
<rect x="418.05" y="359.46" width="1.0" height="1.0" fill="#3a2000" fill-opacity="0.8"/>
<rect x="420.05" y="365.30" width="1.0" height="1.0" fill="#3a2000" fill-opacity="0.8"/>
<rect x="421.47" y="361.85" width="1.0" height="1.0" fill="#3a2000" fill-opacity="0.8"/>
<rect x="418.90" y="363.16" width="1.0" height="1.0" fill="#3a2000" fill-opacity="0.8"/>
<rect x="422.49" y="366.37" width="1.0" height="1.0" fill="#3a2000" fill-opacity="0.8"/>
<rect x="421.37" y="361.19" width="1.0" height="1.0" fill="#3a2000" fill-opacity="0.8"/>
<rect x="424.08" y="363.84" width="1.0" height="1.0" fill="#3a2000" fill-opacity="0.8"/>
<rect x="418.79" y="365.76" width="1.0" height="1.0" fill="#3a2000" fill-opacity="0.8"/>
<rect x="417.26" y="368.11" width="1.0" height="1.0" fill="#3a2000" fill-opacity="0.8"/>
<rect x="423.01" y="362.83" width="1.0" height="1.0" fill="#3a2000" fill-opacity="0.8"/>
<rect x="420.60" y="360.33" width="1.0" height="1.0" fill="#3a2000" fill-opacity="0.8"/>
<rect x="422.21" y="359.27" width="1.0" height="1.0" fill="#3a2000" fill-opacity="0.8"/>
<rect x="421.36" y="366.09" width="1.0" height="1.0" fill="#3a2000" fill-opacity="0.8"/>
<rect x="419.02" y="367.13" width="1.0" height="1.0" fill="#3a2000" fill-opacity="0.8"/>
<rect x="421.55" y="365.44" width="1.0" height="1.0" fill="#3a2000" fill-opacity="0.8"/>
<rect x="420.31" y="364.35" width="1.0" height="1.0" fill="#3a2000" fill-opacity="0.8"/>
<rect x="424.70" y="366.80" width="1.0" height="1.0" fill="#3a2000" fill-opacity="0.8"/>
<rect x="422.18" y="363.36" width="1.0" height="1.0" fill="#3a2000" fill-opacity="0.8"/>
<rect x="422.51" y="359.47" width="1.0" height="1.0" fill="#3a2000" fill-opacity="0.8"/>
<rect x="425.14" y="364.98" width="1.0" height="1.0" fill="#3a2000" fill-opacity="0.8"/>
<rect x="418.76" y="366.63" width="1.0" height="1.0" fill="#3a2000" fill-opacity="0.8"/>
<rect x="422.22" y="362.53" width="1.0" height="1.0" fill="#3a2000" fill-opacity="0.8"/>
<rect x="420.36" y="359.11" width="1.0" height="1.0" fill="#3a2000" fill-opacity="0.8"/>
<rect x="417.25" y="360.48" width="1.0" height="1.0" fill="#3a2000" fill-opacity="0.8"/>
<rect x="423.11" y="359.45" width="1.0" height="1.0" fill="#3a2000" fill-opacity="0.8"/>
<rect x="418.43" y="360.12" width="1.0" height="1.0" fill="#3a2000" fill-opacity="0.8"/>
<rect x="424.04" y="362.57" width="1.0" height="1.0" fill="#3a2000" fill-opacity="0.8"/>
<rect x="420.24" y="359.66" width="1.0" height="1.0" fill="#3a2000" fill-opacity="0.8"/>
<rect x="424.15" y="364.06" width="1.0" height="1.0" fill="#3a2000" fill-opacity="0.8"/>
<rect x="423.98" y="366.60" width="1.0" height="1.0" fill="#3a2000" fill-opacity="0.8"/>
<rect x="419.94" y="361.52" width="1.0" height="1.0" fill="#3a2000" fill-opacity="0.8"/>
<rect x="424.16" y="362.27" width="1.0" height="1.0" fill="#3a2000" fill-opacity="0.8"/>
<rect x="417.56" y="367.90" width="1.0" height="1.0" fill="#3a2000" fill-opacity="0.8"/>
<rect x="418.29" y="360.56" width="1.0" height="1.0" fill="#3a2000" fill-opacity="0.8"/>
<rect x="420.56" y="361.09" width="1.0" height="1.0" fill="#3a2000" fill-opacity="0.8"/>
<rect x="418.56" y="364.44" width="1.0" height="1.0" fill="#3a2000" fill-opacity="0.8"/>
<rect x="419.97" y="358.94" width="1.0" height="1.0" fill="#3a2000" fill-opacity="0.8"/>
<rect x="421.30" y="362.37" width="1.0" height="1.0" fill="#3a2000" fill-opacity="0.8"/>
<rect x="422.41" y="367.86" width="1.0" height="1.0" fill="#3a2000" fill-opacity="0.8"/>
<rect x="421.76" y="363.75" width="1.0" height="1.0" fill="#3a2000" fill-opacity="0.8"/>
<rect x="416.69" y="365.26" width="1.0" height="1.0" fill="#3a2000" fill-opacity="0.8"/>
<rect x="423.22" y="367.36" width="1.0" height="1.0" fill="#3a2000" fill-opacity="0.8"/>
<rect x="423.38" y="367.12" width="1.0" height="1.0" fill="#3a2000" fill-opacity="0.8"/>
<rect x="419.79" y="362.59" width="1.0" height="1.0" fill="#3a2000" fill-opacity="0.8"/>
<rect x="421.91" y="359.87" width="1.0" height="1.0" fill="#3a2000" fill-opacity="0.8"/>
<rect x="416.81" y="359.49" width="1.0" height="1.0" fill="#3a2000" fill-opacity="0.8"/>
<rect x="417.66" y="360.86" width="1.0" height="1.0" fill="#3a2000" fill-opacity="0.8"/>
<rect x="416.67" y="362.10" width="1.0" height="1.0" fill="#3a2000" fill-opacity="0.8"/>
<rect x="417.56" y="358.90" width="1.0" height="1.0" fill="#3a2000" fill-opacity="0.8"/>
<rect x="419.47" y="359.85" width="1.0" height="1.0" fill="#3a2000" fill-opacity="0.8"/>
<rect x="424.07" y="359.14" width="1.0" height="1.0" fill="#3a2000" fill-opacity="0.8"/>
<rect x="417.54" y="364.67" width="1.0" height="1.0" fill="#3a2000" fill-opacity="0.8"/>
<rect x="419.33" y="361.27" width="1.0" height="1.0" fill="#3a2000" fill-opacity="0.8"/>
<rect x="417.31" y="362.32" width="1.0" height="1.0" fill="#3a2000" fill-opacity="0.8"/>
<rect x="425.14" y="366.88" width="1.0" height="1.0" fill="#3a2000" fill-opacity="0.8"/>
<rect x="420.55" y="363.28" width="1.0" height="1.0" fill="#3a2000" fill-opacity="0.8"/>
<rect x="417.12" y="359.71" width="1.0" height="1.0" fill="#3a2000" fill-opacity="0.8"/>
<rect x="418.58" y="362.12" width="1.0" height="1.0" fill="#3a2000" fill-opacity="0.8"/>
<rect x="417.65" y="366.69" width="1.0" height="1.0" fill="#3a2000" fill-opacity="0.8"/>
<rect x="424.76" y="359.12" width="1.0" height="1.0" fill="#3a2000" fill-opacity="0.8"/>
<rect x="417.52" y="363.87" width="1.0" height="1.0" fill="#3a2000" fill-opacity="0.8"/>
<rect x="416.44" y="364.01" width="1.0" height="1.0" fill="#3a2000" fill-opacity="0.8"/>
<rect x="425.01" y="363.86" width="1.0" height="1.0" fill="#3a2000" fill-opacity="0.8"/>
<polygon points="440.30,357.60 438.30,358.80 436.30,360.50 434.80,362.50 435.30,364.50 435.80,366.50 437.30,368.00 439.80,368.60 441.80,368.60 444.30,368.00 445.80,366.50 446.30,364.50 446.80,362.50 445.30,360.50 443.30,358.80 441.30,357.60" fill="#1b78a0" stroke="#1b78a0" stroke-width="0.4"/>
<rect x="442.07" y="366.60" width="1.0" height="1.0" fill="#062a38" fill-opacity="0.8"/>
<rect x="439.10" y="359.97" width="1.0" height="1.0" fill="#062a38" fill-opacity="0.8"/>
<rect x="442.75" y="358.94" width="1.0" height="1.0" fill="#062a38" fill-opacity="0.8"/>
<rect x="442.81" y="362.96" width="1.0" height="1.0" fill="#062a38" fill-opacity="0.8"/>
<rect x="437.81" y="360.73" width="1.0" height="1.0" fill="#062a38" fill-opacity="0.8"/>
<rect x="444.66" y="366.03" width="1.0" height="1.0" fill="#062a38" fill-opacity="0.8"/>
<rect x="443.05" y="366.48" width="1.0" height="1.0" fill="#062a38" fill-opacity="0.8"/>
<rect x="442.46" y="366.10" width="1.0" height="1.0" fill="#062a38" fill-opacity="0.8"/>
<rect x="440.46" y="359.59" width="1.0" height="1.0" fill="#062a38" fill-opacity="0.8"/>
<rect x="436.06" y="361.01" width="1.0" height="1.0" fill="#062a38" fill-opacity="0.8"/>
<rect x="438.31" y="357.41" width="1.0" height="1.0" fill="#062a38" fill-opacity="0.8"/>
<rect x="442.03" y="359.95" width="1.0" height="1.0" fill="#062a38" fill-opacity="0.8"/>
<rect x="439.83" y="367.62" width="1.0" height="1.0" fill="#062a38" fill-opacity="0.8"/>
<rect x="444.69" y="367.41" width="1.0" height="1.0" fill="#062a38" fill-opacity="0.8"/>
<rect x="439.08" y="367.61" width="1.0" height="1.0" fill="#062a38" fill-opacity="0.8"/>
<rect x="437.84" y="359.53" width="1.0" height="1.0" fill="#062a38" fill-opacity="0.8"/>
<rect x="437.64" y="359.26" width="1.0" height="1.0" fill="#062a38" fill-opacity="0.8"/>
<rect x="443.90" y="363.96" width="1.0" height="1.0" fill="#062a38" fill-opacity="0.8"/>
<rect x="440.12" y="366.34" width="1.0" height="1.0" fill="#062a38" fill-opacity="0.8"/>
<rect x="443.00" y="364.28" width="1.0" height="1.0" fill="#062a38" fill-opacity="0.8"/>
<rect x="441.75" y="358.03" width="1.0" height="1.0" fill="#062a38" fill-opacity="0.8"/>
<rect x="442.84" y="367.11" width="1.0" height="1.0" fill="#062a38" fill-opacity="0.8"/>
<rect x="440.10" y="365.35" width="1.0" height="1.0" fill="#062a38" fill-opacity="0.8"/>
<rect x="442.90" y="359.06" width="1.0" height="1.0" fill="#062a38" fill-opacity="0.8"/>
<rect x="443.01" y="360.76" width="1.0" height="1.0" fill="#062a38" fill-opacity="0.8"/>
<rect x="439.36" y="367.79" width="1.0" height="1.0" fill="#062a38" fill-opacity="0.8"/>
<rect x="444.32" y="361.52" width="1.0" height="1.0" fill="#062a38" fill-opacity="0.8"/>
<rect x="437.33" y="365.07" width="1.0" height="1.0" fill="#062a38" fill-opacity="0.8"/>
<rect x="437.16" y="358.50" width="1.0" height="1.0" fill="#062a38" fill-opacity="0.8"/>
<rect x="443.06" y="367.05" width="1.0" height="1.0" fill="#062a38" fill-opacity="0.8"/>
<rect x="443.24" y="358.71" width="1.0" height="1.0" fill="#062a38" fill-opacity="0.8"/>
<rect x="441.72" y="367.88" width="1.0" height="1.0" fill="#062a38" fill-opacity="0.8"/>
<rect x="440.74" y="360.95" width="1.0" height="1.0" fill="#062a38" fill-opacity="0.8"/>
<rect x="435.93" y="358.54" width="1.0" height="1.0" fill="#062a38" fill-opacity="0.8"/>
<rect x="441.65" y="367.78" width="1.0" height="1.0" fill="#062a38" fill-opacity="0.8"/>
<rect x="444.20" y="362.89" width="1.0" height="1.0" fill="#062a38" fill-opacity="0.8"/>
<rect x="443.65" y="361.87" width="1.0" height="1.0" fill="#062a38" fill-opacity="0.8"/>
<rect x="437.70" y="366.19" width="1.0" height="1.0" fill="#062a38" fill-opacity="0.8"/>
<rect x="438.44" y="359.87" width="1.0" height="1.0" fill="#062a38" fill-opacity="0.8"/>
<rect x="441.08" y="359.75" width="1.0" height="1.0" fill="#062a38" fill-opacity="0.8"/>
<rect x="439.57" y="359.95" width="1.0" height="1.0" fill="#062a38" fill-opacity="0.8"/>
<rect x="443.99" y="358.54" width="1.0" height="1.0" fill="#062a38" fill-opacity="0.8"/>
<rect x="439.92" y="360.99" width="1.0" height="1.0" fill="#062a38" fill-opacity="0.8"/>
<rect x="443.94" y="363.52" width="1.0" height="1.0" fill="#062a38" fill-opacity="0.8"/>
<rect x="444.06" y="361.73" width="1.0" height="1.0" fill="#062a38" fill-opacity="0.8"/>
<rect x="440.59" y="362.62" width="1.0" height="1.0" fill="#062a38" fill-opacity="0.8"/>
<rect x="435.97" y="362.86" width="1.0" height="1.0" fill="#062a38" fill-opacity="0.8"/>
<rect x="437.45" y="361.94" width="1.0" height="1.0" fill="#062a38" fill-opacity="0.8"/>
<rect x="442.99" y="357.14" width="1.0" height="1.0" fill="#062a38" fill-opacity="0.8"/>
<rect x="440.06" y="359.00" width="1.0" height="1.0" fill="#062a38" fill-opacity="0.8"/>
<rect x="440.81" y="365.08" width="1.0" height="1.0" fill="#062a38" fill-opacity="0.8"/>
<rect x="440.47" y="360.69" width="1.0" height="1.0" fill="#062a38" fill-opacity="0.8"/>
<rect x="442.86" y="363.21" width="1.0" height="1.0" fill="#062a38" fill-opacity="0.8"/>
<rect x="440.84" y="358.27" width="1.0" height="1.0" fill="#062a38" fill-opacity="0.8"/>
<rect x="438.29" y="359.83" width="1.0" height="1.0" fill="#062a38" fill-opacity="0.8"/>
<rect x="440.37" y="365.59" width="1.0" height="1.0" fill="#062a38" fill-opacity="0.8"/>
<rect x="442.64" y="363.28" width="1.0" height="1.0" fill="#062a38" fill-opacity="0.8"/>
<rect x="439.79" y="367.14" width="1.0" height="1.0" fill="#062a38" fill-opacity="0.8"/>
<rect x="440.35" y="363.84" width="1.0" height="1.0" fill="#062a38" fill-opacity="0.8"/>
<rect x="442.03" y="362.73" width="1.0" height="1.0" fill="#062a38" fill-opacity="0.8"/>
<polygon points="460.00,345.70 459.40,348.00 458.60,351.00 458.00,355.00 457.70,360.00 458.00,364.00 458.40,368.00 458.90,371.50 459.90,373.70 460.90,373.70 461.90,371.50 462.40,368.00 462.80,364.00 463.10,360.00 462.80,355.00 462.20,351.00 461.40,348.00 460.80,345.70" fill="#ece232" stroke="#ece232" stroke-width="0.4"/>
<rect x="460.14" y="357.87" width="1.0" height="1.0" fill="#2a2400" fill-opacity="0.8"/>
<rect x="463.08" y="358.59" width="1.0" height="1.0" fill="#2a2400" fill-opacity="0.8"/>
<rect x="462.61" y="364.78" width="1.0" height="1.0" fill="#2a2400" fill-opacity="0.8"/>
<rect x="458.17" y="371.58" width="1.0" height="1.0" fill="#2a2400" fill-opacity="0.8"/>
<rect x="463.09" y="360.87" width="1.0" height="1.0" fill="#2a2400" fill-opacity="0.8"/>
<rect x="457.29" y="368.72" width="1.0" height="1.0" fill="#2a2400" fill-opacity="0.8"/>
<rect x="459.48" y="348.61" width="1.0" height="1.0" fill="#2a2400" fill-opacity="0.8"/>
<rect x="458.03" y="347.23" width="1.0" height="1.0" fill="#2a2400" fill-opacity="0.8"/>
<rect x="461.12" y="347.25" width="1.0" height="1.0" fill="#2a2400" fill-opacity="0.8"/>
<rect x="462.76" y="367.15" width="1.0" height="1.0" fill="#2a2400" fill-opacity="0.8"/>
<rect x="461.46" y="349.52" width="1.0" height="1.0" fill="#2a2400" fill-opacity="0.8"/>
<rect x="457.33" y="363.69" width="1.0" height="1.0" fill="#2a2400" fill-opacity="0.8"/>
<rect x="463.27" y="369.92" width="1.0" height="1.0" fill="#2a2400" fill-opacity="0.8"/>
<rect x="463.16" y="351.35" width="1.0" height="1.0" fill="#2a2400" fill-opacity="0.8"/>
<rect x="459.81" y="356.35" width="1.0" height="1.0" fill="#2a2400" fill-opacity="0.8"/>
<rect x="462.29" y="372.92" width="1.0" height="1.0" fill="#2a2400" fill-opacity="0.8"/>
<rect x="459.41" y="349.72" width="1.0" height="1.0" fill="#2a2400" fill-opacity="0.8"/>
<rect x="458.74" y="359.64" width="1.0" height="1.0" fill="#2a2400" fill-opacity="0.8"/>
<rect x="458.59" y="350.68" width="1.0" height="1.0" fill="#2a2400" fill-opacity="0.8"/>
<rect x="456.44" y="365.42" width="1.0" height="1.0" fill="#2a2400" fill-opacity="0.8"/>
<rect x="459.47" y="360.71" width="1.0" height="1.0" fill="#2a2400" fill-opacity="0.8"/>
<rect x="458.69" y="345.71" width="1.0" height="1.0" fill="#2a2400" fill-opacity="0.8"/>
<rect x="459.99" y="362.67" width="1.0" height="1.0" fill="#2a2400" fill-opacity="0.8"/>
<rect x="463.39" y="347.00" width="1.0" height="1.0" fill="#2a2400" fill-opacity="0.8"/>
<rect x="463.30" y="367.27" width="1.0" height="1.0" fill="#2a2400" fill-opacity="0.8"/>
<rect x="458.21" y="348.13" width="1.0" height="1.0" fill="#2a2400" fill-opacity="0.8"/>
<rect x="461.91" y="346.31" width="1.0" height="1.0" fill="#2a2400" fill-opacity="0.8"/>
<rect x="457.23" y="352.77" width="1.0" height="1.0" fill="#2a2400" fill-opacity="0.8"/>
<rect x="462.86" y="357.02" width="1.0" height="1.0" fill="#2a2400" fill-opacity="0.8"/>
<rect x="458.16" y="368.13" width="1.0" height="1.0" fill="#2a2400" fill-opacity="0.8"/>
<rect x="462.92" y="349.38" width="1.0" height="1.0" fill="#2a2400" fill-opacity="0.8"/>
<rect x="461.34" y="361.18" width="1.0" height="1.0" fill="#2a2400" fill-opacity="0.8"/>
<rect x="456.71" y="347.70" width="1.0" height="1.0" fill="#2a2400" fill-opacity="0.8"/>
<rect x="459.36" y="364.47" width="1.0" height="1.0" fill="#2a2400" fill-opacity="0.8"/>
<rect x="463.06" y="347.23" width="1.0" height="1.0" fill="#2a2400" fill-opacity="0.8"/>
<rect x="462.07" y="362.96" width="1.0" height="1.0" fill="#2a2400" fill-opacity="0.8"/>
<rect x="462.46" y="347.54" width="1.0" height="1.0" fill="#2a2400" fill-opacity="0.8"/>
<rect x="462.51" y="347.07" width="1.0" height="1.0" fill="#2a2400" fill-opacity="0.8"/>
<rect x="458.74" y="357.91" width="1.0" height="1.0" fill="#2a2400" fill-opacity="0.8"/>
<rect x="462.97" y="360.69" width="1.0" height="1.0" fill="#2a2400" fill-opacity="0.8"/>
<rect x="457.23" y="352.70" width="1.0" height="1.0" fill="#2a2400" fill-opacity="0.8"/>
<rect x="458.02" y="359.95" width="1.0" height="1.0" fill="#2a2400" fill-opacity="0.8"/>
<rect x="457.46" y="348.26" width="1.0" height="1.0" fill="#2a2400" fill-opacity="0.8"/>
<rect x="457.75" y="346.61" width="1.0" height="1.0" fill="#2a2400" fill-opacity="0.8"/>
<rect x="458.50" y="353.94" width="1.0" height="1.0" fill="#2a2400" fill-opacity="0.8"/>
<rect x="458.39" y="366.47" width="1.0" height="1.0" fill="#2a2400" fill-opacity="0.8"/>
<rect x="457.58" y="359.20" width="1.0" height="1.0" fill="#2a2400" fill-opacity="0.8"/>
<rect x="456.43" y="354.92" width="1.0" height="1.0" fill="#2a2400" fill-opacity="0.8"/>
<rect x="456.41" y="352.21" width="1.0" height="1.0" fill="#2a2400" fill-opacity="0.8"/>
<rect x="460.27" y="365.73" width="1.0" height="1.0" fill="#2a2400" fill-opacity="0.8"/>
<rect x="459.72" y="350.50" width="1.0" height="1.0" fill="#2a2400" fill-opacity="0.8"/>
<rect x="457.07" y="371.37" width="1.0" height="1.0" fill="#2a2400" fill-opacity="0.8"/>
<rect x="459.41" y="368.13" width="1.0" height="1.0" fill="#2a2400" fill-opacity="0.8"/>
<rect x="462.31" y="359.06" width="1.0" height="1.0" fill="#2a2400" fill-opacity="0.8"/>
<rect x="459.95" y="356.21" width="1.0" height="1.0" fill="#2a2400" fill-opacity="0.8"/>
<polygon points="479.60,328.50 478.80,331.00 478.50,336.00 478.70,342.00 478.50,347.00 478.00,351.00 476.80,353.50 478.50,355.30 481.50,355.30 483.20,353.50 482.00,351.00 481.50,347.00 481.30,342.00 481.50,336.00 481.20,331.00 480.40,328.50" fill="#2a7fae" stroke="#2a7fae" stroke-width="0.4"/>
<rect x="483.17" y="346.43" width="1.0" height="1.0" fill="#0d2e44" fill-opacity="0.8"/>
<rect x="482.03" y="337.18" width="1.0" height="1.0" fill="#0d2e44" fill-opacity="0.8"/>
<rect x="480.53" y="346.94" width="1.0" height="1.0" fill="#0d2e44" fill-opacity="0.8"/>
<rect x="478.34" y="338.85" width="1.0" height="1.0" fill="#0d2e44" fill-opacity="0.8"/>
<rect x="476.69" y="329.46" width="1.0" height="1.0" fill="#0d2e44" fill-opacity="0.8"/>
<rect x="481.33" y="329.90" width="1.0" height="1.0" fill="#0d2e44" fill-opacity="0.8"/>
<rect x="476.94" y="334.85" width="1.0" height="1.0" fill="#0d2e44" fill-opacity="0.8"/>
<rect x="482.09" y="330.26" width="1.0" height="1.0" fill="#0d2e44" fill-opacity="0.8"/>
<rect x="480.80" y="351.33" width="1.0" height="1.0" fill="#0d2e44" fill-opacity="0.8"/>
<rect x="477.54" y="335.56" width="1.0" height="1.0" fill="#0d2e44" fill-opacity="0.8"/>
<rect x="479.19" y="335.85" width="1.0" height="1.0" fill="#0d2e44" fill-opacity="0.8"/>
<rect x="479.09" y="332.22" width="1.0" height="1.0" fill="#0d2e44" fill-opacity="0.8"/>
<rect x="483.01" y="335.05" width="1.0" height="1.0" fill="#0d2e44" fill-opacity="0.8"/>
<rect x="479.86" y="354.07" width="1.0" height="1.0" fill="#0d2e44" fill-opacity="0.8"/>
<rect x="483.04" y="334.55" width="1.0" height="1.0" fill="#0d2e44" fill-opacity="0.8"/>
<rect x="478.41" y="336.30" width="1.0" height="1.0" fill="#0d2e44" fill-opacity="0.8"/>
<rect x="478.60" y="328.03" width="1.0" height="1.0" fill="#0d2e44" fill-opacity="0.8"/>
<rect x="479.52" y="340.72" width="1.0" height="1.0" fill="#0d2e44" fill-opacity="0.8"/>
<rect x="479.54" y="333.39" width="1.0" height="1.0" fill="#0d2e44" fill-opacity="0.8"/>
<rect x="477.71" y="328.13" width="1.0" height="1.0" fill="#0d2e44" fill-opacity="0.8"/>
<rect x="478.74" y="330.41" width="1.0" height="1.0" fill="#0d2e44" fill-opacity="0.8"/>
<rect x="475.87" y="329.12" width="1.0" height="1.0" fill="#0d2e44" fill-opacity="0.8"/>
<rect x="477.47" y="336.15" width="1.0" height="1.0" fill="#0d2e44" fill-opacity="0.8"/>
<rect x="479.72" y="343.69" width="1.0" height="1.0" fill="#0d2e44" fill-opacity="0.8"/>
<rect x="480.70" y="348.11" width="1.0" height="1.0" fill="#0d2e44" fill-opacity="0.8"/>
<rect x="482.38" y="347.19" width="1.0" height="1.0" fill="#0d2e44" fill-opacity="0.8"/>
<rect x="478.18" y="338.44" width="1.0" height="1.0" fill="#0d2e44" fill-opacity="0.8"/>
<rect x="476.84" y="354.39" width="1.0" height="1.0" fill="#0d2e44" fill-opacity="0.8"/>
<rect x="480.59" y="347.41" width="1.0" height="1.0" fill="#0d2e44" fill-opacity="0.8"/>
<rect x="482.05" y="329.17" width="1.0" height="1.0" fill="#0d2e44" fill-opacity="0.8"/>
<rect x="480.47" y="351.90" width="1.0" height="1.0" fill="#0d2e44" fill-opacity="0.8"/>
<rect x="481.87" y="347.67" width="1.0" height="1.0" fill="#0d2e44" fill-opacity="0.8"/>
<rect x="479.68" y="331.73" width="1.0" height="1.0" fill="#0d2e44" fill-opacity="0.8"/>
<rect x="482.05" y="341.52" width="1.0" height="1.0" fill="#0d2e44" fill-opacity="0.8"/>
<rect x="481.98" y="349.57" width="1.0" height="1.0" fill="#0d2e44" fill-opacity="0.8"/>
<rect x="482.49" y="343.65" width="1.0" height="1.0" fill="#0d2e44" fill-opacity="0.8"/>
<rect x="480.97" y="346.30" width="1.0" height="1.0" fill="#0d2e44" fill-opacity="0.8"/>
<rect x="475.94" y="334.16" width="1.0" height="1.0" fill="#0d2e44" fill-opacity="0.8"/>
<rect x="478.44" y="331.57" width="1.0" height="1.0" fill="#0d2e44" fill-opacity="0.8"/>
<rect x="482.05" y="330.81" width="1.0" height="1.0" fill="#0d2e44" fill-opacity="0.8"/>
<ellipse cx="480.6" cy="353.6" rx="2.6" ry="1.6" fill="#143c58" fill-opacity="0.85"/>
<polygon points="499.30,301.90 498.20,303.50 497.80,308.00 497.60,314.00 497.70,320.00 497.90,324.00 499.00,325.60 500.60,325.60 501.70,324.00 501.90,320.00 502.00,314.00 501.80,308.00 501.40,303.50 500.30,301.90" fill="#13906a" stroke="#13906a" stroke-width="0.4"/>
<rect x="500.37" y="314.64" width="1.0" height="1.0" fill="#073a28" fill-opacity="0.8"/>
<rect x="500.82" y="316.24" width="1.0" height="1.0" fill="#073a28" fill-opacity="0.8"/>
<rect x="495.13" y="313.00" width="1.0" height="1.0" fill="#073a28" fill-opacity="0.8"/>
<rect x="501.39" y="320.31" width="1.0" height="1.0" fill="#073a28" fill-opacity="0.8"/>
<rect x="499.60" y="313.32" width="1.0" height="1.0" fill="#073a28" fill-opacity="0.8"/>
<rect x="495.65" y="317.03" width="1.0" height="1.0" fill="#073a28" fill-opacity="0.8"/>
<rect x="497.22" y="318.86" width="1.0" height="1.0" fill="#073a28" fill-opacity="0.8"/>
<rect x="497.33" y="303.16" width="1.0" height="1.0" fill="#073a28" fill-opacity="0.8"/>
<rect x="496.82" y="318.69" width="1.0" height="1.0" fill="#073a28" fill-opacity="0.8"/>
<rect x="503.30" y="318.93" width="1.0" height="1.0" fill="#073a28" fill-opacity="0.8"/>
<rect x="498.31" y="313.11" width="1.0" height="1.0" fill="#073a28" fill-opacity="0.8"/>
<rect x="500.84" y="312.75" width="1.0" height="1.0" fill="#073a28" fill-opacity="0.8"/>
<rect x="500.28" y="319.58" width="1.0" height="1.0" fill="#073a28" fill-opacity="0.8"/>
<rect x="495.75" y="316.63" width="1.0" height="1.0" fill="#073a28" fill-opacity="0.8"/>
<rect x="497.23" y="304.89" width="1.0" height="1.0" fill="#073a28" fill-opacity="0.8"/>
<rect x="497.66" y="319.01" width="1.0" height="1.0" fill="#073a28" fill-opacity="0.8"/>
<rect x="495.20" y="314.86" width="1.0" height="1.0" fill="#073a28" fill-opacity="0.8"/>
<rect x="497.36" y="302.84" width="1.0" height="1.0" fill="#073a28" fill-opacity="0.8"/>
<rect x="500.91" y="317.33" width="1.0" height="1.0" fill="#073a28" fill-opacity="0.8"/>
<rect x="497.54" y="317.41" width="1.0" height="1.0" fill="#073a28" fill-opacity="0.8"/>
<rect x="499.00" y="313.64" width="1.0" height="1.0" fill="#073a28" fill-opacity="0.8"/>
<rect x="496.10" y="312.45" width="1.0" height="1.0" fill="#073a28" fill-opacity="0.8"/>
<rect x="496.77" y="322.58" width="1.0" height="1.0" fill="#073a28" fill-opacity="0.8"/>
<rect x="502.96" y="324.58" width="1.0" height="1.0" fill="#073a28" fill-opacity="0.8"/>
<rect x="498.96" y="301.81" width="1.0" height="1.0" fill="#073a28" fill-opacity="0.8"/>
<rect x="503.23" y="320.83" width="1.0" height="1.0" fill="#073a28" fill-opacity="0.8"/>
<rect x="497.36" y="312.05" width="1.0" height="1.0" fill="#073a28" fill-opacity="0.8"/>
<rect x="503.04" y="306.37" width="1.0" height="1.0" fill="#073a28" fill-opacity="0.8"/>
<rect x="499.98" y="306.39" width="1.0" height="1.0" fill="#073a28" fill-opacity="0.8"/>
<rect x="499.50" y="304.76" width="1.0" height="1.0" fill="#073a28" fill-opacity="0.8"/>
<rect x="496.21" y="323.98" width="1.0" height="1.0" fill="#073a28" fill-opacity="0.8"/>
<rect x="499.37" y="320.84" width="1.0" height="1.0" fill="#073a28" fill-opacity="0.8"/>
<rect x="501.01" y="322.42" width="1.0" height="1.0" fill="#073a28" fill-opacity="0.8"/>
<rect x="502.64" y="306.88" width="1.0" height="1.0" fill="#073a28" fill-opacity="0.8"/>
<rect x="495.31" y="312.92" width="1.0" height="1.0" fill="#073a28" fill-opacity="0.8"/>
<rect x="499.23" y="301.49" width="1.0" height="1.0" fill="#073a28" fill-opacity="0.8"/>
<rect x="497.64" y="312.08" width="1.0" height="1.0" fill="#073a28" fill-opacity="0.8"/>
<rect x="497.99" y="304.73" width="1.0" height="1.0" fill="#073a28" fill-opacity="0.8"/>
<rect x="502.16" y="308.89" width="1.0" height="1.0" fill="#073a28" fill-opacity="0.8"/>
<rect x="501.41" y="301.44" width="1.0" height="1.0" fill="#073a28" fill-opacity="0.8"/>
<line x1="409.40" y1="299.00" x2="409.40" y2="376.90" stroke="#231f20" stroke-width="1.1"/>
<line x1="408.90" y1="376.40" x2="512.00" y2="376.40" stroke="#231f20" stroke-width="1.1"/>
<line x1="406.20" y1="375.00" x2="409.40" y2="375.00" stroke="#231f20" stroke-width="0.9"/>
<text x="403.80" y="375.30" font-size="9.02" fill="#231f20" text-anchor="end" dominant-baseline="central" textLength="8.80" lengthAdjust="spacingAndGlyphs" stroke="#231f20" stroke-width="0.12">−2</text>
<line x1="406.20" y1="350.30" x2="409.40" y2="350.30" stroke="#231f20" stroke-width="0.9"/>
<text x="403.80" y="350.60" font-size="9.02" fill="#231f20" text-anchor="end" dominant-baseline="central" textLength="4.30" lengthAdjust="spacingAndGlyphs" stroke="#231f20" stroke-width="0.12">0</text>
<line x1="406.20" y1="325.60" x2="409.40" y2="325.60" stroke="#231f20" stroke-width="0.9"/>
<text x="403.80" y="325.90" font-size="9.02" fill="#231f20" text-anchor="end" dominant-baseline="central" textLength="4.30" lengthAdjust="spacingAndGlyphs" stroke="#231f20" stroke-width="0.12">2</text>
<line x1="406.20" y1="300.90" x2="409.40" y2="300.90" stroke="#231f20" stroke-width="0.9"/>
<text x="403.80" y="301.20" font-size="9.02" fill="#231f20" text-anchor="end" dominant-baseline="central" textLength="4.30" lengthAdjust="spacingAndGlyphs" stroke="#231f20" stroke-width="0.12">4</text>
<line x1="421.20" y1="376.40" x2="421.20" y2="379.60" stroke="#231f20" stroke-width="0.9"/>
<text x="420.00" y="382.90" font-size="8.47" fill="#231f20" text-anchor="end" dominant-baseline="hanging" transform="rotate(-45 420.00 382.90)" textLength="19.69" lengthAdjust="spacingAndGlyphs" stroke="#231f20" stroke-width="0.12">Naive</text>
<line x1="440.80" y1="376.40" x2="440.80" y2="379.60" stroke="#231f20" stroke-width="0.9"/>
<text x="439.60" y="382.90" font-size="8.47" fill="#231f20" text-anchor="end" dominant-baseline="hanging" transform="rotate(-45 439.60 382.90)" textLength="30.66" lengthAdjust="spacingAndGlyphs" stroke="#231f20" stroke-width="0.12">Early Tm</text>
<line x1="460.40" y1="376.40" x2="460.40" y2="379.60" stroke="#231f20" stroke-width="0.9"/>
<text x="459.20" y="382.90" font-size="8.47" fill="#231f20" text-anchor="end" dominant-baseline="hanging" transform="rotate(-45 459.20 382.90)" textLength="11.13" lengthAdjust="spacingAndGlyphs" stroke="#231f20" stroke-width="0.12">Act</text>
<line x1="480.00" y1="376.40" x2="480.00" y2="379.60" stroke="#231f20" stroke-width="0.9"/>
<text x="478.80" y="382.90" font-size="8.47" fill="#231f20" text-anchor="end" dominant-baseline="hanging" transform="rotate(-45 478.80 382.90)" textLength="8.56" lengthAdjust="spacingAndGlyphs" stroke="#231f20" stroke-width="0.12">Int</text>
<line x1="499.80" y1="376.40" x2="499.80" y2="379.60" stroke="#231f20" stroke-width="0.9"/>
<text x="498.60" y="382.90" font-size="8.47" fill="#231f20" text-anchor="end" dominant-baseline="hanging" transform="rotate(-45 498.60 382.90)" textLength="37.23" lengthAdjust="spacingAndGlyphs" stroke="#231f20" stroke-width="0.12">Term/SenL</text>
<text x="385.60" y="338.00" font-size="9.02" fill="#231f20" text-anchor="middle" dominant-baseline="central" transform="rotate(-90 385.60 338.00)" textLength="38.50" lengthAdjust="spacingAndGlyphs" stroke="#231f20" stroke-width="0.12">MDS dim. 1</text>
<text x="106.20" y="452.20" font-size="12.5" fill="#000" text-anchor="start" font-weight="bold">F</text>
<rect x="158.90" y="465.10" width="4.04" height="8.40" fill="#23238a"/>
<rect x="158.90" y="476.50" width="4.04" height="15.10" fill="#fde0d4"/>
<rect x="158.90" y="492.42" width="4.04" height="15.10" fill="#8cc8dc"/>
<rect x="158.90" y="508.34" width="4.04" height="15.10" fill="#fbf9f8"/>
<rect x="158.90" y="524.26" width="4.04" height="15.10" fill="#fbf6f4"/>
<rect x="158.90" y="540.18" width="4.04" height="15.10" fill="#fcd4c4"/>
<rect x="163.54" y="465.10" width="4.04" height="8.40" fill="#23238a"/>
<rect x="163.54" y="476.50" width="4.04" height="15.10" fill="#fbf9f8"/>
<rect x="163.54" y="492.42" width="4.04" height="15.10" fill="#fbf9f8"/>
<rect x="163.54" y="508.34" width="4.04" height="15.10" fill="#90c8e0"/>
<rect x="163.54" y="524.26" width="4.04" height="15.10" fill="#dcecf6"/>
<rect x="163.54" y="540.18" width="4.04" height="15.10" fill="#fbf9f8"/>
<rect x="168.17" y="465.10" width="4.04" height="8.40" fill="#e3450f"/>
<rect x="168.17" y="476.50" width="4.04" height="15.10" fill="#f0a08a"/>
<rect x="168.17" y="492.42" width="4.04" height="15.10" fill="#fdf0ec"/>
<rect x="168.17" y="508.34" width="4.04" height="15.10" fill="#1a88c4"/>
<rect x="168.17" y="524.26" width="4.04" height="15.10" fill="#b8dcf0"/>
<rect x="168.17" y="540.18" width="4.04" height="15.10" fill="#1a90c8"/>
<rect x="172.81" y="465.10" width="4.04" height="8.40" fill="#e3450f"/>
<rect x="172.81" y="476.50" width="4.04" height="15.10" fill="#f0a08a"/>
<rect x="172.81" y="492.42" width="4.04" height="15.10" fill="#fdf4f0"/>
<rect x="172.81" y="508.34" width="4.04" height="15.10" fill="#1a80c0"/>
<rect x="172.81" y="524.26" width="4.04" height="15.10" fill="#fbf9f8"/>
<rect x="172.81" y="540.18" width="4.04" height="15.10" fill="#1a90c8"/>
<rect x="177.44" y="465.10" width="4.04" height="8.40" fill="#23238a"/>
<rect x="177.44" y="476.50" width="4.04" height="15.10" fill="#fce0d8"/>
<rect x="177.44" y="492.42" width="4.04" height="15.10" fill="#b0dcec"/>
<rect x="177.44" y="508.34" width="4.04" height="15.10" fill="#f8c8b8"/>
<rect x="177.44" y="524.26" width="4.04" height="15.10" fill="#fdece8"/>
<rect x="177.44" y="540.18" width="4.04" height="15.10" fill="#fbf9f8"/>
<rect x="182.08" y="465.10" width="4.04" height="8.40" fill="#23238a"/>
<rect x="182.08" y="476.50" width="4.04" height="15.10" fill="#e0eef8"/>
<rect x="182.08" y="492.42" width="4.04" height="15.10" fill="#f4a890"/>
<rect x="182.08" y="508.34" width="4.04" height="15.10" fill="#fcd8cc"/>
<rect x="182.08" y="524.26" width="4.04" height="15.10" fill="#fdece8"/>
<rect x="182.08" y="540.18" width="4.04" height="15.10" fill="#1a98d0"/>
<rect x="186.72" y="465.10" width="4.04" height="8.40" fill="#23238a"/>
<rect x="186.72" y="476.50" width="4.04" height="15.10" fill="#fcd8cc"/>
<rect x="186.72" y="492.42" width="4.04" height="15.10" fill="#4ab0d0"/>
<rect x="186.72" y="508.34" width="4.04" height="15.10" fill="#fdf0ea"/>
<rect x="186.72" y="524.26" width="4.04" height="15.10" fill="#fdf4f0"/>
<rect x="186.72" y="540.18" width="4.04" height="15.10" fill="#f8c8b4"/>
<rect x="191.35" y="465.10" width="4.04" height="8.40" fill="#23238a"/>
<rect x="191.35" y="476.50" width="4.04" height="15.10" fill="#fdf0ea"/>
<rect x="191.35" y="492.42" width="4.04" height="15.10" fill="#fbf9f8"/>
<rect x="191.35" y="508.34" width="4.04" height="15.10" fill="#a0cce0"/>
<rect x="191.35" y="524.26" width="4.04" height="15.10" fill="#e8f0f8"/>
<rect x="191.35" y="540.18" width="4.04" height="15.10" fill="#e8f0f8"/>
<rect x="195.99" y="465.10" width="4.04" height="8.40" fill="#23238a"/>
<rect x="195.99" y="476.50" width="4.04" height="15.10" fill="#fbf9f8"/>
<rect x="195.99" y="492.42" width="4.04" height="15.10" fill="#e4f0f8"/>
<rect x="195.99" y="508.34" width="4.04" height="15.10" fill="#fcd8d0"/>
<rect x="195.99" y="524.26" width="4.04" height="15.10" fill="#ecf4f8"/>
<rect x="195.99" y="540.18" width="4.04" height="15.10" fill="#fbf9f8"/>
<rect x="200.62" y="465.10" width="4.04" height="8.40" fill="#23238a"/>
<rect x="200.62" y="476.50" width="4.04" height="15.10" fill="#88c4dc"/>
<rect x="200.62" y="492.42" width="4.04" height="15.10" fill="#f8c0b0"/>
<rect x="200.62" y="508.34" width="4.04" height="15.10" fill="#fdf4ee"/>
<rect x="200.62" y="524.26" width="4.04" height="15.10" fill="#d0e4f0"/>
<rect x="200.62" y="540.18" width="4.04" height="15.10" fill="#e4f0f8"/>
<rect x="205.26" y="465.10" width="4.04" height="8.40" fill="#23238a"/>
<rect x="205.26" y="476.50" width="4.04" height="15.10" fill="#fbf9f8"/>
<rect x="205.26" y="492.42" width="4.04" height="15.10" fill="#70bcd8"/>
<rect x="205.26" y="508.34" width="4.04" height="15.10" fill="#a8d4ec"/>
<rect x="205.26" y="524.26" width="4.04" height="15.10" fill="#fdf4f0"/>
<rect x="205.26" y="540.18" width="4.04" height="15.10" fill="#e87868"/>
<rect x="209.90" y="465.10" width="4.04" height="8.40" fill="#23238a"/>
<rect x="209.90" y="476.50" width="4.04" height="15.10" fill="#88c4dc"/>
<rect x="209.90" y="492.42" width="4.04" height="15.10" fill="#80c4dc"/>
<rect x="209.90" y="508.34" width="4.04" height="15.10" fill="#90cce0"/>
<rect x="209.90" y="524.26" width="4.04" height="15.10" fill="#fdece8"/>
<rect x="209.90" y="540.18" width="4.04" height="15.10" fill="#d81830"/>
<rect x="214.53" y="465.10" width="4.04" height="8.40" fill="#23238a"/>
<rect x="214.53" y="476.50" width="4.04" height="15.10" fill="#f4a890"/>
<rect x="214.53" y="492.42" width="4.04" height="15.10" fill="#70bcd8"/>
<rect x="214.53" y="508.34" width="4.04" height="15.10" fill="#e05848"/>
<rect x="214.53" y="524.26" width="4.04" height="15.10" fill="#fbf9f8"/>
<rect x="214.53" y="540.18" width="4.04" height="15.10" fill="#d8ecf4"/>
<rect x="219.17" y="465.10" width="4.04" height="8.40" fill="#23238a"/>
<rect x="219.17" y="476.50" width="4.04" height="15.10" fill="#d8ecf4"/>
<rect x="219.17" y="492.42" width="4.04" height="15.10" fill="#fcd8cc"/>
<rect x="219.17" y="508.34" width="4.04" height="15.10" fill="#f08870"/>
<rect x="219.17" y="524.26" width="4.04" height="15.10" fill="#fdece8"/>
<rect x="219.17" y="540.18" width="4.04" height="15.10" fill="#b0dcec"/>
<rect x="223.80" y="465.10" width="4.04" height="8.40" fill="#23238a"/>
<rect x="223.80" y="476.50" width="4.04" height="15.10" fill="#20a0d0"/>
<rect x="223.80" y="492.42" width="4.04" height="15.10" fill="#e8f4fa"/>
<rect x="223.80" y="508.34" width="4.04" height="15.10" fill="#f8c0b0"/>
<rect x="223.80" y="524.26" width="4.04" height="15.10" fill="#d81830"/>
<rect x="223.80" y="540.18" width="4.04" height="15.10" fill="#fcd0c0"/>
<rect x="228.44" y="465.10" width="4.04" height="8.40" fill="#23238a"/>
<rect x="228.44" y="476.50" width="4.04" height="15.10" fill="#70bcd8"/>
<rect x="228.44" y="492.42" width="4.04" height="15.10" fill="#b0dcec"/>
<rect x="228.44" y="508.34" width="4.04" height="15.10" fill="#fcc8bc"/>
<rect x="228.44" y="524.26" width="4.04" height="15.10" fill="#c81830"/>
<rect x="228.44" y="540.18" width="4.04" height="15.10" fill="#f09888"/>
<rect x="233.08" y="465.10" width="4.04" height="8.40" fill="#23238a"/>
<rect x="233.08" y="476.50" width="4.04" height="15.10" fill="#fcd8cc"/>
<rect x="233.08" y="492.42" width="4.04" height="15.10" fill="#e0f0f8"/>
<rect x="233.08" y="508.34" width="4.04" height="15.10" fill="#fdf4f0"/>
<rect x="233.08" y="524.26" width="4.04" height="15.10" fill="#fbf9f8"/>
<rect x="233.08" y="540.18" width="4.04" height="15.10" fill="#fbf9f8"/>
<rect x="237.71" y="465.10" width="4.04" height="8.40" fill="#23238a"/>
<rect x="237.71" y="476.50" width="4.04" height="15.10" fill="#fcd0c0"/>
<rect x="237.71" y="492.42" width="4.04" height="15.10" fill="#e8f4f8"/>
<rect x="237.71" y="508.34" width="4.04" height="15.10" fill="#fdece8"/>
<rect x="237.71" y="524.26" width="4.04" height="15.10" fill="#f4f8fa"/>
<rect x="237.71" y="540.18" width="4.04" height="15.10" fill="#b8e0f0"/>
<rect x="242.35" y="465.10" width="4.04" height="8.40" fill="#23238a"/>
<rect x="242.35" y="476.50" width="4.04" height="15.10" fill="#70bcd8"/>
<rect x="242.35" y="492.42" width="4.04" height="15.10" fill="#f8b8a0"/>
<rect x="242.35" y="508.34" width="4.04" height="15.10" fill="#e87060"/>
<rect x="242.35" y="524.26" width="4.04" height="15.10" fill="#ecf4f8"/>
<rect x="242.35" y="540.18" width="4.04" height="15.10" fill="#80c4e0"/>
<rect x="246.98" y="465.10" width="4.04" height="8.40" fill="#23238a"/>
<rect x="246.98" y="476.50" width="4.04" height="15.10" fill="#a8d8ec"/>
<rect x="246.98" y="492.42" width="4.04" height="15.10" fill="#f0a088"/>
<rect x="246.98" y="508.34" width="4.04" height="15.10" fill="#fdece8"/>
<rect x="246.98" y="524.26" width="4.04" height="15.10" fill="#e4f0f8"/>
<rect x="246.98" y="540.18" width="4.04" height="15.10" fill="#20a0d0"/>
<rect x="251.62" y="465.10" width="4.04" height="8.40" fill="#e3450f"/>
<rect x="251.62" y="476.50" width="4.04" height="15.10" fill="#88c6de"/>
<rect x="251.62" y="492.42" width="4.04" height="15.10" fill="#f4b098"/>
<rect x="251.62" y="508.34" width="4.04" height="15.10" fill="#e0f0f8"/>
<rect x="251.62" y="524.26" width="4.04" height="15.10" fill="#f0f4f8"/>
<rect x="251.62" y="540.18" width="4.04" height="15.10" fill="#b8dcee"/>
<rect x="256.26" y="465.10" width="4.04" height="8.40" fill="#e3450f"/>
<rect x="256.26" y="476.50" width="4.04" height="15.10" fill="#f8c0b0"/>
<rect x="256.26" y="492.42" width="4.04" height="15.10" fill="#fbf9f8"/>
<rect x="256.26" y="508.34" width="4.04" height="15.10" fill="#b0dcec"/>
<rect x="256.26" y="524.26" width="4.04" height="15.10" fill="#fde8e0"/>
<rect x="256.26" y="540.18" width="4.04" height="15.10" fill="#80c4dc"/>
<rect x="260.89" y="465.10" width="4.04" height="8.40" fill="#dadada"/>
<rect x="260.89" y="476.50" width="4.04" height="15.10" fill="#2a9ccc"/>
<rect x="260.89" y="492.42" width="4.04" height="15.10" fill="#f8c0b0"/>
<rect x="260.89" y="508.34" width="4.04" height="15.10" fill="#b81830"/>
<rect x="260.89" y="524.26" width="4.04" height="15.10" fill="#fde0d4"/>
<rect x="260.89" y="540.18" width="4.04" height="15.10" fill="#70bcd8"/>
<rect x="265.53" y="465.10" width="4.04" height="8.40" fill="#dadada"/>
<rect x="265.53" y="476.50" width="4.04" height="15.10" fill="#2a98c8"/>
<rect x="265.53" y="492.42" width="4.04" height="15.10" fill="#a0d0e8"/>
<rect x="265.53" y="508.34" width="4.04" height="15.10" fill="#fde8e0"/>
<rect x="265.53" y="524.26" width="4.04" height="15.10" fill="#e0eef8"/>
<rect x="265.53" y="540.18" width="4.04" height="15.10" fill="#e02028"/>
<rect x="270.16" y="465.10" width="4.04" height="8.40" fill="#dadada"/>
<rect x="270.16" y="476.50" width="4.04" height="15.10" fill="#80c4e0"/>
<rect x="270.16" y="492.42" width="4.04" height="15.10" fill="#d8ecf4"/>
<rect x="270.16" y="508.34" width="4.04" height="15.10" fill="#fdece4"/>
<rect x="270.16" y="524.26" width="4.04" height="15.10" fill="#900c28"/>
<rect x="270.16" y="540.18" width="4.04" height="15.10" fill="#fbf9f8"/>
<rect x="274.80" y="465.10" width="4.04" height="8.40" fill="#dadada"/>
<rect x="274.80" y="476.50" width="4.04" height="15.10" fill="#1a80b8"/>
<rect x="274.80" y="492.42" width="4.04" height="15.10" fill="#e0f0f8"/>
<rect x="274.80" y="508.34" width="4.04" height="15.10" fill="#fdf0ec"/>
<rect x="274.80" y="524.26" width="4.04" height="15.10" fill="#fdf4f0"/>
<rect x="274.80" y="540.18" width="4.04" height="15.10" fill="#e84838"/>
<rect x="279.44" y="465.10" width="4.04" height="8.40" fill="#dadada"/>
<rect x="279.44" y="476.50" width="4.04" height="15.10" fill="#6cbcdc"/>
<rect x="279.44" y="492.42" width="4.04" height="15.10" fill="#a0d0e8"/>
<rect x="279.44" y="508.34" width="4.04" height="15.10" fill="#f4f8fa"/>
<rect x="279.44" y="524.26" width="4.04" height="15.10" fill="#e8f4f8"/>
<rect x="279.44" y="540.18" width="4.04" height="15.10" fill="#d81830"/>
<rect x="284.07" y="465.10" width="4.04" height="8.40" fill="#dadada"/>
<rect x="284.07" y="476.50" width="4.04" height="15.10" fill="#40a8d4"/>
<rect x="284.07" y="492.42" width="4.04" height="15.10" fill="#d01830"/>
<rect x="284.07" y="508.34" width="4.04" height="15.10" fill="#fdf0f0"/>
<rect x="284.07" y="524.26" width="4.04" height="15.10" fill="#dcecf4"/>
<rect x="284.07" y="540.18" width="4.04" height="15.10" fill="#1a78b8"/>
<rect x="288.71" y="465.10" width="4.04" height="8.40" fill="#dadada"/>
<rect x="288.71" y="476.50" width="4.04" height="15.10" fill="#70bcd8"/>
<rect x="288.71" y="492.42" width="4.04" height="15.10" fill="#e8f4f8"/>
<rect x="288.71" y="508.34" width="4.04" height="15.10" fill="#f8f4f4"/>
<rect x="288.71" y="524.26" width="4.04" height="15.10" fill="#e4f0f8"/>
<rect x="288.71" y="540.18" width="4.04" height="15.10" fill="#e87058"/>
<rect x="293.34" y="465.10" width="4.04" height="8.40" fill="#dadada"/>
<rect x="293.34" y="476.50" width="4.04" height="15.10" fill="#f0f4f8"/>
<rect x="293.34" y="492.42" width="4.04" height="15.10" fill="#e86048"/>
<rect x="293.34" y="508.34" width="4.04" height="15.10" fill="#1a88c0"/>
<rect x="293.34" y="524.26" width="4.04" height="15.10" fill="#20a0d0"/>
<rect x="293.34" y="540.18" width="4.04" height="15.10" fill="#1a88c0"/>
<rect x="297.98" y="465.10" width="4.04" height="8.40" fill="#dadada"/>
<rect x="297.98" y="476.50" width="4.04" height="15.10" fill="#1a88c0"/>
<rect x="297.98" y="492.42" width="4.04" height="15.10" fill="#d81830"/>
<rect x="297.98" y="508.34" width="4.04" height="15.10" fill="#90c8e0"/>
<rect x="297.98" y="524.26" width="4.04" height="15.10" fill="#d8ecf4"/>
<rect x="297.98" y="540.18" width="4.04" height="15.10" fill="#3aa8d4"/>
<rect x="302.62" y="465.10" width="4.04" height="8.40" fill="#dadada"/>
<rect x="302.62" y="476.50" width="4.04" height="15.10" fill="#20a0d0"/>
<rect x="302.62" y="492.42" width="4.04" height="15.10" fill="#e87050"/>
<rect x="302.62" y="508.34" width="4.04" height="15.10" fill="#f4f4f4"/>
<rect x="302.62" y="524.26" width="4.04" height="15.10" fill="#fcd8cc"/>
<rect x="302.62" y="540.18" width="4.04" height="15.10" fill="#a0d0e8"/>
<rect x="307.25" y="465.10" width="4.04" height="8.40" fill="#dadada"/>
<rect x="307.25" y="476.50" width="4.04" height="15.10" fill="#fbf9f8"/>
<rect x="307.25" y="492.42" width="4.04" height="15.10" fill="#fbf9f8"/>
<rect x="307.25" y="508.34" width="4.04" height="15.10" fill="#fbf9f8"/>
<rect x="307.25" y="524.26" width="4.04" height="15.10" fill="#fcd8cc"/>
<rect x="307.25" y="540.18" width="4.04" height="15.10" fill="#e4f0f8"/>
<rect x="311.89" y="465.10" width="4.04" height="8.40" fill="#dadada"/>
<rect x="311.89" y="476.50" width="4.04" height="15.10" fill="#a8d4ec"/>
<rect x="311.89" y="492.42" width="4.04" height="15.10" fill="#f4a088"/>
<rect x="311.89" y="508.34" width="4.04" height="15.10" fill="#1a88c0"/>
<rect x="311.89" y="524.26" width="4.04" height="15.10" fill="#1a90c8"/>
<rect x="311.89" y="540.18" width="4.04" height="15.10" fill="#b8dcf0"/>
<rect x="316.52" y="465.10" width="4.04" height="8.40" fill="#e3450f"/>
<rect x="316.52" y="476.50" width="4.04" height="15.10" fill="#e87060"/>
<rect x="316.52" y="492.42" width="4.04" height="15.10" fill="#1a88c0"/>
<rect x="316.52" y="508.34" width="4.04" height="15.10" fill="#fde8e0"/>
<rect x="316.52" y="524.26" width="4.04" height="15.10" fill="#a8d4ec"/>
<rect x="316.52" y="540.18" width="4.04" height="15.10" fill="#fcd8cc"/>
<rect x="321.16" y="465.10" width="4.04" height="8.40" fill="#e3450f"/>
<rect x="321.16" y="476.50" width="4.04" height="15.10" fill="#fbf9f8"/>
<rect x="321.16" y="492.42" width="4.04" height="15.10" fill="#90c8e0"/>
<rect x="321.16" y="508.34" width="4.04" height="15.10" fill="#fcd0c0"/>
<rect x="321.16" y="524.26" width="4.04" height="15.10" fill="#a8d4ec"/>
<rect x="321.16" y="540.18" width="4.04" height="15.10" fill="#f8c0b0"/>
<rect x="325.80" y="465.10" width="4.04" height="8.40" fill="#e3450f"/>
<rect x="325.80" y="476.50" width="4.04" height="15.10" fill="#fde8e0"/>
<rect x="325.80" y="492.42" width="4.04" height="15.10" fill="#fdf4f0"/>
<rect x="325.80" y="508.34" width="4.04" height="15.10" fill="#d01830"/>
<rect x="325.80" y="524.26" width="4.04" height="15.10" fill="#e4f0f8"/>
<rect x="325.80" y="540.18" width="4.04" height="15.10" fill="#90c8e0"/>
<rect x="330.43" y="465.10" width="4.04" height="8.40" fill="#e3450f"/>
<rect x="330.43" y="476.50" width="4.04" height="15.10" fill="#fbf9f8"/>
<rect x="330.43" y="492.42" width="4.04" height="15.10" fill="#fcd0c0"/>
<rect x="330.43" y="508.34" width="4.04" height="15.10" fill="#fde8e0"/>
<rect x="330.43" y="524.26" width="4.04" height="15.10" fill="#c0e0f0"/>
<rect x="330.43" y="540.18" width="4.04" height="15.10" fill="#90c8e0"/>
<rect x="335.07" y="465.10" width="4.04" height="8.40" fill="#e3450f"/>
<rect x="335.07" y="476.50" width="4.04" height="15.10" fill="#fdd8cc"/>
<rect x="335.07" y="492.42" width="4.04" height="15.10" fill="#90c8e0"/>
<rect x="335.07" y="508.34" width="4.04" height="15.10" fill="#a8d4ec"/>
<rect x="335.07" y="524.26" width="4.04" height="15.10" fill="#b0dcec"/>
<rect x="335.07" y="540.18" width="4.04" height="15.10" fill="#f8c0a8"/>
<rect x="339.70" y="465.10" width="4.04" height="8.40" fill="#e3450f"/>
<rect x="339.70" y="476.50" width="4.04" height="15.10" fill="#f8b8a8"/>
<rect x="339.70" y="492.42" width="4.04" height="15.10" fill="#20a0d0"/>
<rect x="339.70" y="508.34" width="4.04" height="15.10" fill="#1a88c0"/>
<rect x="339.70" y="524.26" width="4.04" height="15.10" fill="#1a90c8"/>
<rect x="339.70" y="540.18" width="4.04" height="15.10" fill="#f8c8b8"/>
<rect x="344.34" y="465.10" width="4.04" height="8.40" fill="#23238a"/>
<rect x="344.34" y="476.50" width="4.04" height="15.10" fill="#fcd8cc"/>
<rect x="344.34" y="492.42" width="4.04" height="15.10" fill="#f0f4f8"/>
<rect x="344.34" y="508.34" width="4.04" height="15.10" fill="#1a88c0"/>
<rect x="344.34" y="524.26" width="4.04" height="15.10" fill="#1a90c8"/>
<rect x="344.34" y="540.18" width="4.04" height="15.10" fill="#fbf9f8"/>
<rect x="348.98" y="465.10" width="4.04" height="8.40" fill="#23238a"/>
<rect x="348.98" y="476.50" width="4.04" height="15.10" fill="#e8f4f8"/>
<rect x="348.98" y="492.42" width="4.04" height="15.10" fill="#f8c0a8"/>
<rect x="348.98" y="508.34" width="4.04" height="15.10" fill="#1a80b8"/>
<rect x="348.98" y="524.26" width="4.04" height="15.10" fill="#2098cc"/>
<rect x="348.98" y="540.18" width="4.04" height="15.10" fill="#c0e0f0"/>
<rect x="353.61" y="465.10" width="4.04" height="8.40" fill="#e3450f"/>
<rect x="353.61" y="476.50" width="4.04" height="15.10" fill="#900c28"/>
<rect x="353.61" y="492.42" width="4.04" height="15.10" fill="#0c4a80"/>
<rect x="353.61" y="508.34" width="4.04" height="15.10" fill="#1a88c0"/>
<rect x="353.61" y="524.26" width="4.04" height="15.10" fill="#80c4e0"/>
<rect x="353.61" y="540.18" width="4.04" height="15.10" fill="#c8e4f0"/>
<rect x="358.25" y="465.10" width="4.04" height="8.40" fill="#e3450f"/>
<rect x="358.25" y="476.50" width="4.04" height="15.10" fill="#900c28"/>
<rect x="358.25" y="492.42" width="4.04" height="15.10" fill="#1a5890"/>
<rect x="358.25" y="508.34" width="4.04" height="15.10" fill="#2094c8"/>
<rect x="358.25" y="524.26" width="4.04" height="15.10" fill="#90cce4"/>
<rect x="358.25" y="540.18" width="4.04" height="15.10" fill="#d8ecf4"/>
<rect x="365.80" y="476.50" width="6.80" height="15.10" fill="#7fc08e"/>
<rect x="365.80" y="492.42" width="6.80" height="15.10" fill="#d9d9d9"/>
<rect x="365.80" y="508.34" width="6.80" height="15.10" fill="#d9d9d9"/>
<rect x="365.80" y="524.26" width="6.80" height="15.10" fill="#d9d9d9"/>
<rect x="365.80" y="540.18" width="6.80" height="15.10" fill="#d9d9d9"/>
<text x="155.20" y="484.05" font-size="8.69" fill="#231f20" text-anchor="end" dominant-baseline="central" textLength="38.20" lengthAdjust="spacingAndGlyphs" stroke="#231f20" stroke-width="0.12">Term/SenL</text>
<text x="376.30" y="484.05" font-size="9.13" fill="#231f20" text-anchor="start" dominant-baseline="central" textLength="28.15" lengthAdjust="spacingAndGlyphs" stroke="#231f20" stroke-width="0.12">4.6e-02</text>
<text x="155.20" y="499.97" font-size="8.69" fill="#231f20" text-anchor="end" dominant-baseline="central" textLength="20.20" lengthAdjust="spacingAndGlyphs" stroke="#231f20" stroke-width="0.12">Naive</text>
<text x="376.30" y="499.97" font-size="9.13" fill="#231f20" text-anchor="start" dominant-baseline="central" textLength="28.15" lengthAdjust="spacingAndGlyphs" stroke="#231f20" stroke-width="0.12">2.6e-01</text>
<text x="155.20" y="515.89" font-size="8.69" fill="#231f20" text-anchor="end" dominant-baseline="central" textLength="8.78" lengthAdjust="spacingAndGlyphs" stroke="#231f20" stroke-width="0.12">Int</text>
<text x="376.30" y="515.89" font-size="9.13" fill="#231f20" text-anchor="start" dominant-baseline="central" textLength="28.15" lengthAdjust="spacingAndGlyphs" stroke="#231f20" stroke-width="0.12">2.6e-01</text>
<text x="155.20" y="531.81" font-size="8.69" fill="#231f20" text-anchor="end" dominant-baseline="central" textLength="11.41" lengthAdjust="spacingAndGlyphs" stroke="#231f20" stroke-width="0.12">Act</text>
<text x="376.30" y="531.81" font-size="9.13" fill="#231f20" text-anchor="start" dominant-baseline="central" textLength="28.15" lengthAdjust="spacingAndGlyphs" stroke="#231f20" stroke-width="0.12">2.6e-01</text>
<text x="155.20" y="547.73" font-size="8.69" fill="#231f20" text-anchor="end" dominant-baseline="central" textLength="31.46" lengthAdjust="spacingAndGlyphs" stroke="#231f20" stroke-width="0.12">Early Tm</text>
<text x="376.30" y="547.73" font-size="9.13" fill="#231f20" text-anchor="start" dominant-baseline="central" textLength="28.15" lengthAdjust="spacingAndGlyphs" stroke="#231f20" stroke-width="0.12">5.0e-01</text>
<text x="365.00" y="469.00" font-size="9.13" fill="#231f20" text-anchor="start" dominant-baseline="central" textLength="35.00" lengthAdjust="spacingAndGlyphs" stroke="#231f20" stroke-width="0.12">condition</text>
<text x="227.70" y="459.20" font-size="10.78" fill="#231f20" text-anchor="start" textLength="67.40" lengthAdjust="spacingAndGlyphs" stroke="#231f20" stroke-width="0.12">NonRes vs. Res</text>
<text x="418.70" y="480.60" font-size="9.13" fill="#231f20" text-anchor="start" dominant-baseline="central" textLength="40.50" lengthAdjust="spacingAndGlyphs" stroke="#231f20" stroke-width="0.12">normalized</text>
<text x="418.70" y="488.90" font-size="9.13" fill="#231f20" text-anchor="start" dominant-baseline="central" textLength="37.50" lengthAdjust="spacingAndGlyphs" stroke="#231f20" stroke-width="0.12">frequency</text>
<rect x="418.30" y="497.40" width="7.80" height="42.00" fill="url(#gF)"/>
<text x="428.60" y="499.30" font-size="9.13" fill="#231f20" text-anchor="start" dominant-baseline="central" textLength="4.62" lengthAdjust="spacingAndGlyphs" stroke="#231f20" stroke-width="0.12">4</text>
<text x="428.60" y="511.80" font-size="9.13" fill="#231f20" text-anchor="start" dominant-baseline="central" textLength="4.62" lengthAdjust="spacingAndGlyphs" stroke="#231f20" stroke-width="0.12">2</text>
<text x="428.60" y="524.30" font-size="9.13" fill="#231f20" text-anchor="start" dominant-baseline="central" textLength="4.62" lengthAdjust="spacingAndGlyphs" stroke="#231f20" stroke-width="0.12">0</text>
<text x="428.60" y="538.00" font-size="9.13" fill="#231f20" text-anchor="start" dominant-baseline="central" textLength="9.46" lengthAdjust="spacingAndGlyphs" stroke="#231f20" stroke-width="0.12">−2</text>
<text x="471.90" y="480.20" font-size="9.13" fill="#231f20" text-anchor="start" dominant-baseline="central" textLength="36.80" lengthAdjust="spacingAndGlyphs" stroke="#231f20" stroke-width="0.12">significant</text>
<rect x="471.90" y="488.10" width="7.00" height="6.60" fill="#d9d9d9"/>
<text x="481.70" y="491.60" font-size="9.13" fill="#231f20" text-anchor="start" dominant-baseline="central" textLength="9.23" lengthAdjust="spacingAndGlyphs" stroke="#231f20" stroke-width="0.12">no</text>
<rect x="471.90" y="495.80" width="7.00" height="6.60" fill="#7fc08e"/>
<text x="481.70" y="499.20" font-size="9.13" fill="#231f20" text-anchor="start" dominant-baseline="central" textLength="12.92" lengthAdjust="spacingAndGlyphs" stroke="#231f20" stroke-width="0.12">yes</text>
<text x="471.90" y="513.40" font-size="9.13" fill="#231f20" text-anchor="start" dominant-baseline="central" textLength="35.00" lengthAdjust="spacingAndGlyphs" stroke="#231f20" stroke-width="0.12">condition</text>
<rect x="471.90" y="520.30" width="7.00" height="6.60" fill="#dadada"/>
<text x="481.70" y="523.70" font-size="9.13" fill="#231f20" text-anchor="start" dominant-baseline="central" textLength="11.99" lengthAdjust="spacingAndGlyphs" stroke="#231f20" stroke-width="0.12">HD</text>
<rect x="471.90" y="527.60" width="7.00" height="6.60" fill="#e3450f"/>
<text x="481.70" y="531.90" font-size="9.13" fill="#231f20" text-anchor="start" dominant-baseline="central" textLength="29.99" lengthAdjust="spacingAndGlyphs" stroke="#231f20" stroke-width="0.12">NonRes</text>
<rect x="471.90" y="535.00" width="7.00" height="6.60" fill="#23238a"/>
<text x="481.70" y="540.30" font-size="9.13" fill="#231f20" text-anchor="start" dominant-baseline="central" textLength="14.76" lengthAdjust="spacingAndGlyphs" stroke="#231f20" stroke-width="0.12">Res</text></svg>
</body></html>
